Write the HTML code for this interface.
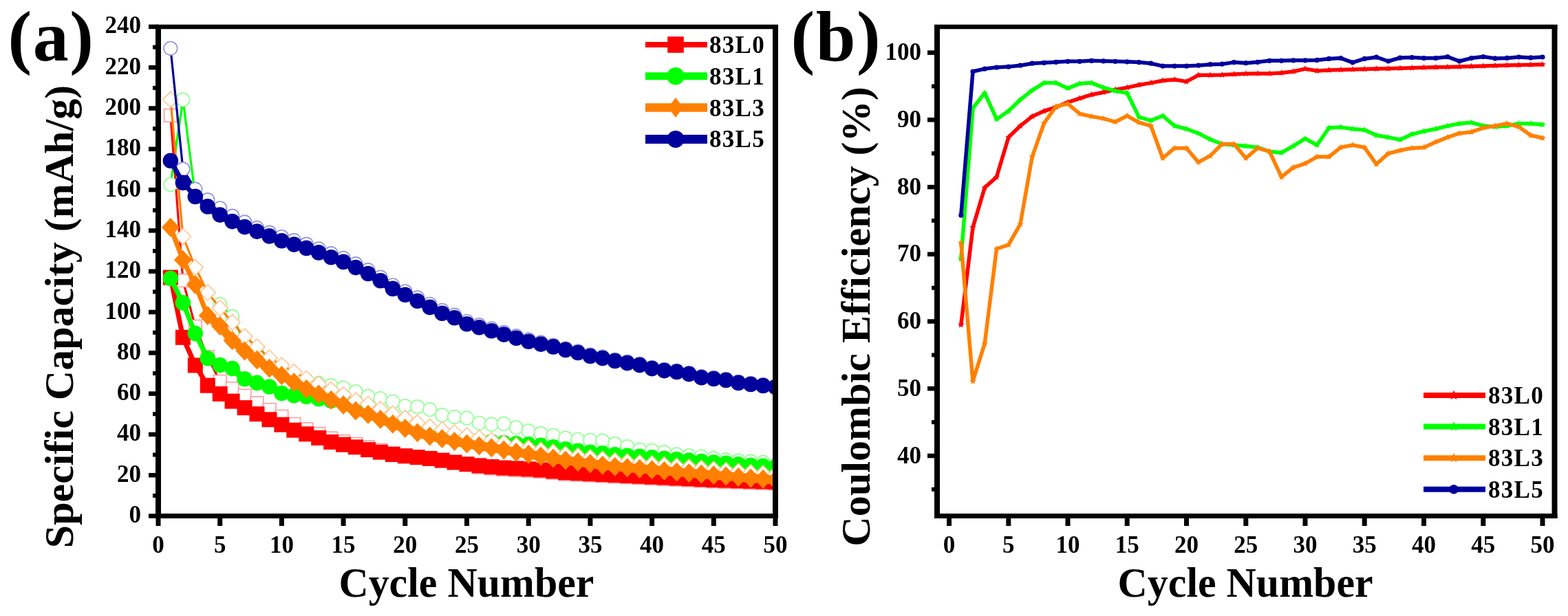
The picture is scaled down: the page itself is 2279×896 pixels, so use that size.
<!DOCTYPE html>
<html><head><meta charset="utf-8"><title>Cycling performance</title>
<style>html,body{margin:0;padding:0;background:#fff;} svg{display:block;}</style>
</head><body>
<svg width="2279" height="896" viewBox="0 0 2279 896">
<rect width="100%" height="100%" fill="#fff"/>
<defs><clipPath id="ca"><rect x="230.0" y="39.0" width="897.0" height="711.5"/></clipPath><clipPath id="cb"><rect x="1362.0" y="39.0" width="897.5" height="711.5"/></clipPath></defs>
<g clip-path="url(#ca)">
<polyline points="247.9,167.9 265.9,408.0 283.8,474.8 301.8,519.2 319.7,554.8 337.6,565.2 355.6,575.6 373.5,586.2 391.5,596.0 409.4,605.8 427.3,616.8 445.3,624.2 463.2,631.0 481.2,637.5 499.1,642.0 517.0,645.8 535.0,650.3 552.9,654.7 570.9,658.9 588.8,662.1 606.7,665.1 624.7,666.9 642.6,669.6 660.6,672.5 678.5,675.2 696.4,679.6 714.4,681.4 732.3,682.9 750.3,683.8 768.2,684.7 786.1,685.9 804.1,687.6 822.0,689.7 840.0,690.6 857.9,691.5 875.8,692.4 893.8,693.3 911.7,694.2 929.7,695.1 947.6,695.9 965.5,696.8 983.5,697.7 1001.4,698.6 1019.4,699.5 1037.3,700.4 1055.2,701.0 1073.2,701.6 1091.1,702.2 1109.1,702.8 1127.0,703.4" fill="none" stroke="#ff0000" stroke-width="3.2" stroke-linejoin="round" stroke-linecap="round" />
<rect x="238.6" y="158.6" width="18.6" height="18.6" fill="#fff" stroke="#ffa0a0" stroke-width="1.7"/>
<rect x="256.6" y="398.7" width="18.6" height="18.6" fill="#fff" stroke="#ffa0a0" stroke-width="1.7"/>
<rect x="274.5" y="465.5" width="18.6" height="18.6" fill="#fff" stroke="#ffa0a0" stroke-width="1.7"/>
<rect x="292.5" y="509.9" width="18.6" height="18.6" fill="#fff" stroke="#ffa0a0" stroke-width="1.7"/>
<rect x="310.4" y="545.5" width="18.6" height="18.6" fill="#fff" stroke="#ffa0a0" stroke-width="1.7"/>
<rect x="328.3" y="555.9" width="18.6" height="18.6" fill="#fff" stroke="#ffa0a0" stroke-width="1.7"/>
<rect x="346.3" y="566.3" width="18.6" height="18.6" fill="#fff" stroke="#ffa0a0" stroke-width="1.7"/>
<rect x="364.2" y="576.9" width="18.6" height="18.6" fill="#fff" stroke="#ffa0a0" stroke-width="1.7"/>
<rect x="382.2" y="586.7" width="18.6" height="18.6" fill="#fff" stroke="#ffa0a0" stroke-width="1.7"/>
<rect x="400.1" y="596.5" width="18.6" height="18.6" fill="#fff" stroke="#ffa0a0" stroke-width="1.7"/>
<rect x="418.0" y="607.5" width="18.6" height="18.6" fill="#fff" stroke="#ffa0a0" stroke-width="1.7"/>
<rect x="436.0" y="614.9" width="18.6" height="18.6" fill="#fff" stroke="#ffa0a0" stroke-width="1.7"/>
<rect x="453.9" y="621.7" width="18.6" height="18.6" fill="#fff" stroke="#ffa0a0" stroke-width="1.7"/>
<rect x="471.9" y="628.2" width="18.6" height="18.6" fill="#fff" stroke="#ffa0a0" stroke-width="1.7"/>
<rect x="489.8" y="632.7" width="18.6" height="18.6" fill="#fff" stroke="#ffa0a0" stroke-width="1.7"/>
<rect x="507.7" y="636.5" width="18.6" height="18.6" fill="#fff" stroke="#ffa0a0" stroke-width="1.7"/>
<rect x="525.7" y="641.0" width="18.6" height="18.6" fill="#fff" stroke="#ffa0a0" stroke-width="1.7"/>
<rect x="543.6" y="645.4" width="18.6" height="18.6" fill="#fff" stroke="#ffa0a0" stroke-width="1.7"/>
<rect x="561.6" y="649.6" width="18.6" height="18.6" fill="#fff" stroke="#ffa0a0" stroke-width="1.7"/>
<rect x="579.5" y="652.8" width="18.6" height="18.6" fill="#fff" stroke="#ffa0a0" stroke-width="1.7"/>
<rect x="597.4" y="655.8" width="18.6" height="18.6" fill="#fff" stroke="#ffa0a0" stroke-width="1.7"/>
<rect x="615.4" y="657.6" width="18.6" height="18.6" fill="#fff" stroke="#ffa0a0" stroke-width="1.7"/>
<rect x="633.3" y="660.3" width="18.6" height="18.6" fill="#fff" stroke="#ffa0a0" stroke-width="1.7"/>
<rect x="651.3" y="663.2" width="18.6" height="18.6" fill="#fff" stroke="#ffa0a0" stroke-width="1.7"/>
<rect x="669.2" y="665.9" width="18.6" height="18.6" fill="#fff" stroke="#ffa0a0" stroke-width="1.7"/>
<rect x="687.1" y="670.3" width="18.6" height="18.6" fill="#fff" stroke="#ffa0a0" stroke-width="1.7"/>
<rect x="705.1" y="672.1" width="18.6" height="18.6" fill="#fff" stroke="#ffa0a0" stroke-width="1.7"/>
<rect x="723.0" y="673.6" width="18.6" height="18.6" fill="#fff" stroke="#ffa0a0" stroke-width="1.7"/>
<rect x="741.0" y="674.5" width="18.6" height="18.6" fill="#fff" stroke="#ffa0a0" stroke-width="1.7"/>
<rect x="758.9" y="675.4" width="18.6" height="18.6" fill="#fff" stroke="#ffa0a0" stroke-width="1.7"/>
<rect x="776.8" y="676.6" width="18.6" height="18.6" fill="#fff" stroke="#ffa0a0" stroke-width="1.7"/>
<rect x="794.8" y="678.3" width="18.6" height="18.6" fill="#fff" stroke="#ffa0a0" stroke-width="1.7"/>
<rect x="812.7" y="680.4" width="18.6" height="18.6" fill="#fff" stroke="#ffa0a0" stroke-width="1.7"/>
<rect x="830.7" y="681.3" width="18.6" height="18.6" fill="#fff" stroke="#ffa0a0" stroke-width="1.7"/>
<rect x="848.6" y="682.2" width="18.6" height="18.6" fill="#fff" stroke="#ffa0a0" stroke-width="1.7"/>
<rect x="866.5" y="683.1" width="18.6" height="18.6" fill="#fff" stroke="#ffa0a0" stroke-width="1.7"/>
<rect x="884.5" y="684.0" width="18.6" height="18.6" fill="#fff" stroke="#ffa0a0" stroke-width="1.7"/>
<rect x="902.4" y="684.9" width="18.6" height="18.6" fill="#fff" stroke="#ffa0a0" stroke-width="1.7"/>
<rect x="920.4" y="685.8" width="18.6" height="18.6" fill="#fff" stroke="#ffa0a0" stroke-width="1.7"/>
<rect x="938.3" y="686.6" width="18.6" height="18.6" fill="#fff" stroke="#ffa0a0" stroke-width="1.7"/>
<rect x="956.2" y="687.5" width="18.6" height="18.6" fill="#fff" stroke="#ffa0a0" stroke-width="1.7"/>
<rect x="974.2" y="688.4" width="18.6" height="18.6" fill="#fff" stroke="#ffa0a0" stroke-width="1.7"/>
<rect x="992.1" y="689.3" width="18.6" height="18.6" fill="#fff" stroke="#ffa0a0" stroke-width="1.7"/>
<rect x="1010.1" y="690.2" width="18.6" height="18.6" fill="#fff" stroke="#ffa0a0" stroke-width="1.7"/>
<rect x="1028.0" y="691.1" width="18.6" height="18.6" fill="#fff" stroke="#ffa0a0" stroke-width="1.7"/>
<rect x="1045.9" y="691.7" width="18.6" height="18.6" fill="#fff" stroke="#ffa0a0" stroke-width="1.7"/>
<rect x="1063.9" y="692.3" width="18.6" height="18.6" fill="#fff" stroke="#ffa0a0" stroke-width="1.7"/>
<rect x="1081.8" y="692.9" width="18.6" height="18.6" fill="#fff" stroke="#ffa0a0" stroke-width="1.7"/>
<rect x="1099.8" y="693.5" width="18.6" height="18.6" fill="#fff" stroke="#ffa0a0" stroke-width="1.7"/>
<rect x="1117.7" y="694.1" width="18.6" height="18.6" fill="#fff" stroke="#ffa0a0" stroke-width="1.7"/>
<polyline points="247.9,403.6 265.9,490.8 283.8,531.4 301.8,560.7 319.7,572.9 337.6,583.6 355.6,593.1 373.5,602.2 391.5,610.3 409.4,617.7 427.3,625.7 445.3,631.3 463.2,636.9 481.2,642.9 499.1,646.7 517.0,650.3 535.0,654.1 552.9,657.7 570.9,661.0 588.8,663.3 606.7,665.1 624.7,666.9 642.6,669.6 660.6,672.5 678.5,675.2 696.4,677.3 714.4,679.0 732.3,680.5 750.3,681.4 768.2,682.3 786.1,683.5 804.1,685.3 822.0,687.3 840.0,688.2 857.9,689.1 875.8,690.0 893.8,690.9 911.7,691.8 929.7,692.7 947.6,693.6 965.5,694.5 983.5,695.4 1001.4,696.2 1019.4,697.1 1037.3,698.0 1055.2,698.6 1073.2,699.2 1091.1,699.8 1109.1,700.4 1127.0,701.0" fill="none" stroke="#ff0000" stroke-width="7" stroke-linejoin="round" stroke-linecap="round" />
<polyline points="301.8,560.7 319.7,572.9 337.6,583.6 355.6,593.1 373.5,602.2 391.5,610.3 409.4,617.7 427.3,625.7 445.3,631.3 463.2,636.9 481.2,642.9 499.1,646.7 517.0,650.3 535.0,654.1 552.9,657.7 570.9,661.0 588.8,663.3 606.7,665.1 624.7,666.9 642.6,669.6 660.6,672.5 678.5,675.2 696.4,677.3 714.4,679.0 732.3,680.5 750.3,681.4 768.2,682.3 786.1,683.5 804.1,685.3 822.0,687.3 840.0,688.2 857.9,689.1 875.8,690.0 893.8,690.9 911.7,691.8 929.7,692.7 947.6,693.6 965.5,694.5 983.5,695.4 1001.4,696.2 1019.4,697.1 1037.3,698.0 1055.2,698.6 1073.2,699.2 1091.1,699.8 1109.1,700.4 1127.0,701.0" fill="none" stroke="#ff0000" stroke-width="10" stroke-linejoin="round" stroke-linecap="round" />
<rect x="236.9" y="392.6" width="22.0" height="22.0" fill="#ff0000" stroke="none" stroke-width="0"/>
<rect x="254.9" y="479.8" width="22.0" height="22.0" fill="#ff0000" stroke="none" stroke-width="0"/>
<rect x="272.8" y="520.4" width="22.0" height="22.0" fill="#ff0000" stroke="none" stroke-width="0"/>
<rect x="290.8" y="549.7" width="22.0" height="22.0" fill="#ff0000" stroke="none" stroke-width="0"/>
<rect x="308.7" y="561.9" width="22.0" height="22.0" fill="#ff0000" stroke="none" stroke-width="0"/>
<rect x="326.6" y="572.6" width="22.0" height="22.0" fill="#ff0000" stroke="none" stroke-width="0"/>
<rect x="344.6" y="582.1" width="22.0" height="22.0" fill="#ff0000" stroke="none" stroke-width="0"/>
<rect x="362.5" y="591.2" width="22.0" height="22.0" fill="#ff0000" stroke="none" stroke-width="0"/>
<rect x="380.5" y="599.3" width="22.0" height="22.0" fill="#ff0000" stroke="none" stroke-width="0"/>
<rect x="398.4" y="606.7" width="22.0" height="22.0" fill="#ff0000" stroke="none" stroke-width="0"/>
<rect x="416.3" y="614.7" width="22.0" height="22.0" fill="#ff0000" stroke="none" stroke-width="0"/>
<rect x="434.3" y="620.3" width="22.0" height="22.0" fill="#ff0000" stroke="none" stroke-width="0"/>
<rect x="452.2" y="625.9" width="22.0" height="22.0" fill="#ff0000" stroke="none" stroke-width="0"/>
<rect x="470.2" y="631.9" width="22.0" height="22.0" fill="#ff0000" stroke="none" stroke-width="0"/>
<rect x="488.1" y="635.7" width="22.0" height="22.0" fill="#ff0000" stroke="none" stroke-width="0"/>
<rect x="506.0" y="639.3" width="22.0" height="22.0" fill="#ff0000" stroke="none" stroke-width="0"/>
<rect x="524.0" y="643.1" width="22.0" height="22.0" fill="#ff0000" stroke="none" stroke-width="0"/>
<rect x="541.9" y="646.7" width="22.0" height="22.0" fill="#ff0000" stroke="none" stroke-width="0"/>
<rect x="559.9" y="650.0" width="22.0" height="22.0" fill="#ff0000" stroke="none" stroke-width="0"/>
<rect x="577.8" y="652.3" width="22.0" height="22.0" fill="#ff0000" stroke="none" stroke-width="0"/>
<rect x="595.7" y="654.1" width="22.0" height="22.0" fill="#ff0000" stroke="none" stroke-width="0"/>
<rect x="613.7" y="655.9" width="22.0" height="22.0" fill="#ff0000" stroke="none" stroke-width="0"/>
<rect x="631.6" y="658.6" width="22.0" height="22.0" fill="#ff0000" stroke="none" stroke-width="0"/>
<rect x="649.6" y="661.5" width="22.0" height="22.0" fill="#ff0000" stroke="none" stroke-width="0"/>
<rect x="667.5" y="664.2" width="22.0" height="22.0" fill="#ff0000" stroke="none" stroke-width="0"/>
<rect x="685.4" y="666.3" width="22.0" height="22.0" fill="#ff0000" stroke="none" stroke-width="0"/>
<rect x="703.4" y="668.0" width="22.0" height="22.0" fill="#ff0000" stroke="none" stroke-width="0"/>
<rect x="721.3" y="669.5" width="22.0" height="22.0" fill="#ff0000" stroke="none" stroke-width="0"/>
<rect x="739.3" y="670.4" width="22.0" height="22.0" fill="#ff0000" stroke="none" stroke-width="0"/>
<rect x="757.2" y="671.3" width="22.0" height="22.0" fill="#ff0000" stroke="none" stroke-width="0"/>
<rect x="775.1" y="672.5" width="22.0" height="22.0" fill="#ff0000" stroke="none" stroke-width="0"/>
<rect x="793.1" y="674.3" width="22.0" height="22.0" fill="#ff0000" stroke="none" stroke-width="0"/>
<rect x="811.0" y="676.3" width="22.0" height="22.0" fill="#ff0000" stroke="none" stroke-width="0"/>
<rect x="829.0" y="677.2" width="22.0" height="22.0" fill="#ff0000" stroke="none" stroke-width="0"/>
<rect x="846.9" y="678.1" width="22.0" height="22.0" fill="#ff0000" stroke="none" stroke-width="0"/>
<rect x="864.8" y="679.0" width="22.0" height="22.0" fill="#ff0000" stroke="none" stroke-width="0"/>
<rect x="882.8" y="679.9" width="22.0" height="22.0" fill="#ff0000" stroke="none" stroke-width="0"/>
<rect x="900.7" y="680.8" width="22.0" height="22.0" fill="#ff0000" stroke="none" stroke-width="0"/>
<rect x="918.7" y="681.7" width="22.0" height="22.0" fill="#ff0000" stroke="none" stroke-width="0"/>
<rect x="936.6" y="682.6" width="22.0" height="22.0" fill="#ff0000" stroke="none" stroke-width="0"/>
<rect x="954.5" y="683.5" width="22.0" height="22.0" fill="#ff0000" stroke="none" stroke-width="0"/>
<rect x="972.5" y="684.4" width="22.0" height="22.0" fill="#ff0000" stroke="none" stroke-width="0"/>
<rect x="990.4" y="685.2" width="22.0" height="22.0" fill="#ff0000" stroke="none" stroke-width="0"/>
<rect x="1008.4" y="686.1" width="22.0" height="22.0" fill="#ff0000" stroke="none" stroke-width="0"/>
<rect x="1026.3" y="687.0" width="22.0" height="22.0" fill="#ff0000" stroke="none" stroke-width="0"/>
<rect x="1044.2" y="687.6" width="22.0" height="22.0" fill="#ff0000" stroke="none" stroke-width="0"/>
<rect x="1062.2" y="688.2" width="22.0" height="22.0" fill="#ff0000" stroke="none" stroke-width="0"/>
<rect x="1080.1" y="688.8" width="22.0" height="22.0" fill="#ff0000" stroke="none" stroke-width="0"/>
<rect x="1098.1" y="689.4" width="22.0" height="22.0" fill="#ff0000" stroke="none" stroke-width="0"/>
<rect x="1116.0" y="690.0" width="22.0" height="22.0" fill="#ff0000" stroke="none" stroke-width="0"/>
<polyline points="247.9,268.4 265.9,145.0 283.8,285.0" fill="none" stroke="#00ff00" stroke-width="3.2" stroke-linejoin="round" stroke-linecap="round" />
<polyline points="319.7,442.7 337.6,460.5 355.6,498.8 373.5,512.4 391.5,526.6 409.4,537.3 427.3,547.1 445.3,552.7 463.2,557.2 481.2,560.7 499.1,564.0 517.0,569.6 535.0,576.5 552.9,579.7 570.9,584.2 588.8,590.7 606.7,591.6 624.7,595.7 642.6,603.7 660.6,606.4 678.5,608.2 696.4,615.3 714.4,617.1 732.3,616.2 750.3,621.8 768.2,626.6 786.1,630.4 804.1,633.1 822.0,637.2 840.0,639.3 857.9,640.2 875.8,641.1 893.8,645.5 911.7,649.7 929.7,654.1 947.6,655.3 965.5,657.7 983.5,661.0 1001.4,663.0 1019.4,664.2 1037.3,666.6 1055.2,668.7 1073.2,669.9 1091.1,671.0 1109.1,672.5 1127.0,676.4" fill="none" stroke="#00ff00" stroke-width="3.2" stroke-linejoin="round" stroke-linecap="round" />
<circle cx="247.9" cy="268.4" r="9.8" fill="#fff" stroke="#96ff96" stroke-width="1.7"/>
<circle cx="265.9" cy="145.0" r="9.8" fill="#fff" stroke="#96ff96" stroke-width="1.7"/>
<circle cx="283.8" cy="285.0" r="9.8" fill="#fff" stroke="#96ff96" stroke-width="1.7"/>
<circle cx="301.8" cy="299.8" r="9.8" fill="#fff" stroke="#96ff96" stroke-width="1.7"/>
<circle cx="319.7" cy="442.7" r="9.8" fill="#fff" stroke="#96ff96" stroke-width="1.7"/>
<circle cx="337.6" cy="460.5" r="9.8" fill="#fff" stroke="#96ff96" stroke-width="1.7"/>
<circle cx="355.6" cy="498.8" r="9.8" fill="#fff" stroke="#96ff96" stroke-width="1.7"/>
<circle cx="373.5" cy="512.4" r="9.8" fill="#fff" stroke="#96ff96" stroke-width="1.7"/>
<circle cx="391.5" cy="526.6" r="9.8" fill="#fff" stroke="#96ff96" stroke-width="1.7"/>
<circle cx="409.4" cy="537.3" r="9.8" fill="#fff" stroke="#96ff96" stroke-width="1.7"/>
<circle cx="427.3" cy="547.1" r="9.8" fill="#fff" stroke="#96ff96" stroke-width="1.7"/>
<circle cx="445.3" cy="552.7" r="9.8" fill="#fff" stroke="#96ff96" stroke-width="1.7"/>
<circle cx="463.2" cy="557.2" r="9.8" fill="#fff" stroke="#96ff96" stroke-width="1.7"/>
<circle cx="481.2" cy="560.7" r="9.8" fill="#fff" stroke="#96ff96" stroke-width="1.7"/>
<circle cx="499.1" cy="564.0" r="9.8" fill="#fff" stroke="#96ff96" stroke-width="1.7"/>
<circle cx="517.0" cy="569.6" r="9.8" fill="#fff" stroke="#96ff96" stroke-width="1.7"/>
<circle cx="535.0" cy="576.5" r="9.8" fill="#fff" stroke="#96ff96" stroke-width="1.7"/>
<circle cx="552.9" cy="579.7" r="9.8" fill="#fff" stroke="#96ff96" stroke-width="1.7"/>
<circle cx="570.9" cy="584.2" r="9.8" fill="#fff" stroke="#96ff96" stroke-width="1.7"/>
<circle cx="588.8" cy="590.7" r="9.8" fill="#fff" stroke="#96ff96" stroke-width="1.7"/>
<circle cx="606.7" cy="591.6" r="9.8" fill="#fff" stroke="#96ff96" stroke-width="1.7"/>
<circle cx="624.7" cy="595.7" r="9.8" fill="#fff" stroke="#96ff96" stroke-width="1.7"/>
<circle cx="642.6" cy="603.7" r="9.8" fill="#fff" stroke="#96ff96" stroke-width="1.7"/>
<circle cx="660.6" cy="606.4" r="9.8" fill="#fff" stroke="#96ff96" stroke-width="1.7"/>
<circle cx="678.5" cy="608.2" r="9.8" fill="#fff" stroke="#96ff96" stroke-width="1.7"/>
<circle cx="696.4" cy="615.3" r="9.8" fill="#fff" stroke="#96ff96" stroke-width="1.7"/>
<circle cx="714.4" cy="617.1" r="9.8" fill="#fff" stroke="#96ff96" stroke-width="1.7"/>
<circle cx="732.3" cy="616.2" r="9.8" fill="#fff" stroke="#96ff96" stroke-width="1.7"/>
<circle cx="750.3" cy="621.8" r="9.8" fill="#fff" stroke="#96ff96" stroke-width="1.7"/>
<circle cx="768.2" cy="626.6" r="9.8" fill="#fff" stroke="#96ff96" stroke-width="1.7"/>
<circle cx="786.1" cy="630.4" r="9.8" fill="#fff" stroke="#96ff96" stroke-width="1.7"/>
<circle cx="804.1" cy="633.1" r="9.8" fill="#fff" stroke="#96ff96" stroke-width="1.7"/>
<circle cx="822.0" cy="637.2" r="9.8" fill="#fff" stroke="#96ff96" stroke-width="1.7"/>
<circle cx="840.0" cy="639.3" r="9.8" fill="#fff" stroke="#96ff96" stroke-width="1.7"/>
<circle cx="857.9" cy="640.2" r="9.8" fill="#fff" stroke="#96ff96" stroke-width="1.7"/>
<circle cx="875.8" cy="641.1" r="9.8" fill="#fff" stroke="#96ff96" stroke-width="1.7"/>
<circle cx="893.8" cy="645.5" r="9.8" fill="#fff" stroke="#96ff96" stroke-width="1.7"/>
<circle cx="911.7" cy="649.7" r="9.8" fill="#fff" stroke="#96ff96" stroke-width="1.7"/>
<circle cx="929.7" cy="654.1" r="9.8" fill="#fff" stroke="#96ff96" stroke-width="1.7"/>
<circle cx="947.6" cy="655.3" r="9.8" fill="#fff" stroke="#96ff96" stroke-width="1.7"/>
<circle cx="965.5" cy="657.7" r="9.8" fill="#fff" stroke="#96ff96" stroke-width="1.7"/>
<circle cx="983.5" cy="661.0" r="9.8" fill="#fff" stroke="#96ff96" stroke-width="1.7"/>
<circle cx="1001.4" cy="663.0" r="9.8" fill="#fff" stroke="#96ff96" stroke-width="1.7"/>
<circle cx="1019.4" cy="664.2" r="9.8" fill="#fff" stroke="#96ff96" stroke-width="1.7"/>
<circle cx="1037.3" cy="666.6" r="9.8" fill="#fff" stroke="#96ff96" stroke-width="1.7"/>
<circle cx="1055.2" cy="668.7" r="9.8" fill="#fff" stroke="#96ff96" stroke-width="1.7"/>
<circle cx="1073.2" cy="669.9" r="9.8" fill="#fff" stroke="#96ff96" stroke-width="1.7"/>
<circle cx="1091.1" cy="671.0" r="9.8" fill="#fff" stroke="#96ff96" stroke-width="1.7"/>
<circle cx="1109.1" cy="672.5" r="9.8" fill="#fff" stroke="#96ff96" stroke-width="1.7"/>
<circle cx="1127.0" cy="676.4" r="9.8" fill="#fff" stroke="#96ff96" stroke-width="1.7"/>
<polyline points="247.9,405.1 265.9,440.4 283.8,485.1 301.8,521.3 319.7,531.1 337.6,536.1 355.6,551.3 373.5,556.9 391.5,562.5 409.4,572.0 427.3,575.3 445.3,576.8 463.2,580.3 481.2,583.0 499.1,585.9 517.0,589.2 535.0,594.5 552.9,601.7 570.9,608.5 588.8,614.7 606.7,620.9 624.7,626.3 642.6,629.8 660.6,634.0 678.5,637.5 696.4,640.2 714.4,642.3 732.3,644.1 750.3,645.2 768.2,646.4 786.1,647.9 804.1,650.3 822.0,653.2 840.0,655.9 857.9,657.7 875.8,659.2 893.8,661.3 911.7,662.7 929.7,663.9 947.6,665.4 965.5,666.9 983.5,668.1 1001.4,669.6 1019.4,671.0 1037.3,672.5 1055.2,673.7 1073.2,675.2 1091.1,676.7 1109.1,677.9 1127.0,679.3" fill="none" stroke="#00ff00" stroke-width="7" stroke-linejoin="round" stroke-linecap="round" />
<polyline points="319.7,531.1 337.6,536.1 355.6,551.3 373.5,556.9 391.5,562.5 409.4,572.0 427.3,575.3 445.3,576.8 463.2,580.3 481.2,583.0 499.1,585.9 517.0,589.2 535.0,594.5 552.9,601.7 570.9,608.5 588.8,614.7 606.7,620.9 624.7,626.3 642.6,629.8 660.6,634.0 678.5,637.5 696.4,640.2 714.4,642.3 732.3,644.1 750.3,645.2 768.2,646.4 786.1,647.9 804.1,650.3 822.0,653.2 840.0,655.9 857.9,657.7 875.8,659.2 893.8,661.3 911.7,662.7 929.7,663.9 947.6,665.4 965.5,666.9 983.5,668.1 1001.4,669.6 1019.4,671.0 1037.3,672.5 1055.2,673.7 1073.2,675.2 1091.1,676.7 1109.1,677.9 1127.0,679.3" fill="none" stroke="#00ff00" stroke-width="10" stroke-linejoin="round" stroke-linecap="round" />
<circle cx="247.9" cy="405.1" r="11.3" fill="#00ff00" stroke="none" stroke-width="0"/>
<circle cx="265.9" cy="440.4" r="11.3" fill="#00ff00" stroke="none" stroke-width="0"/>
<circle cx="283.8" cy="485.1" r="11.3" fill="#00ff00" stroke="none" stroke-width="0"/>
<circle cx="301.8" cy="521.3" r="11.3" fill="#00ff00" stroke="none" stroke-width="0"/>
<circle cx="319.7" cy="531.1" r="11.3" fill="#00ff00" stroke="none" stroke-width="0"/>
<circle cx="337.6" cy="536.1" r="11.3" fill="#00ff00" stroke="none" stroke-width="0"/>
<circle cx="355.6" cy="551.3" r="11.3" fill="#00ff00" stroke="none" stroke-width="0"/>
<circle cx="373.5" cy="556.9" r="11.3" fill="#00ff00" stroke="none" stroke-width="0"/>
<circle cx="391.5" cy="562.5" r="11.3" fill="#00ff00" stroke="none" stroke-width="0"/>
<circle cx="409.4" cy="572.0" r="11.3" fill="#00ff00" stroke="none" stroke-width="0"/>
<circle cx="427.3" cy="575.3" r="11.3" fill="#00ff00" stroke="none" stroke-width="0"/>
<circle cx="445.3" cy="576.8" r="11.3" fill="#00ff00" stroke="none" stroke-width="0"/>
<circle cx="463.2" cy="580.3" r="11.3" fill="#00ff00" stroke="none" stroke-width="0"/>
<circle cx="481.2" cy="583.0" r="11.3" fill="#00ff00" stroke="none" stroke-width="0"/>
<circle cx="499.1" cy="585.9" r="11.3" fill="#00ff00" stroke="none" stroke-width="0"/>
<circle cx="517.0" cy="589.2" r="11.3" fill="#00ff00" stroke="none" stroke-width="0"/>
<circle cx="535.0" cy="594.5" r="11.3" fill="#00ff00" stroke="none" stroke-width="0"/>
<circle cx="552.9" cy="601.7" r="11.3" fill="#00ff00" stroke="none" stroke-width="0"/>
<circle cx="570.9" cy="608.5" r="11.3" fill="#00ff00" stroke="none" stroke-width="0"/>
<circle cx="588.8" cy="614.7" r="11.3" fill="#00ff00" stroke="none" stroke-width="0"/>
<circle cx="606.7" cy="620.9" r="11.3" fill="#00ff00" stroke="none" stroke-width="0"/>
<circle cx="624.7" cy="626.3" r="11.3" fill="#00ff00" stroke="none" stroke-width="0"/>
<circle cx="642.6" cy="629.8" r="11.3" fill="#00ff00" stroke="none" stroke-width="0"/>
<circle cx="660.6" cy="634.0" r="11.3" fill="#00ff00" stroke="none" stroke-width="0"/>
<circle cx="678.5" cy="637.5" r="11.3" fill="#00ff00" stroke="none" stroke-width="0"/>
<circle cx="696.4" cy="640.2" r="11.3" fill="#00ff00" stroke="none" stroke-width="0"/>
<circle cx="714.4" cy="642.3" r="11.3" fill="#00ff00" stroke="none" stroke-width="0"/>
<circle cx="732.3" cy="644.1" r="11.3" fill="#00ff00" stroke="none" stroke-width="0"/>
<circle cx="750.3" cy="645.2" r="11.3" fill="#00ff00" stroke="none" stroke-width="0"/>
<circle cx="768.2" cy="646.4" r="11.3" fill="#00ff00" stroke="none" stroke-width="0"/>
<circle cx="786.1" cy="647.9" r="11.3" fill="#00ff00" stroke="none" stroke-width="0"/>
<circle cx="804.1" cy="650.3" r="11.3" fill="#00ff00" stroke="none" stroke-width="0"/>
<circle cx="822.0" cy="653.2" r="11.3" fill="#00ff00" stroke="none" stroke-width="0"/>
<circle cx="840.0" cy="655.9" r="11.3" fill="#00ff00" stroke="none" stroke-width="0"/>
<circle cx="857.9" cy="657.7" r="11.3" fill="#00ff00" stroke="none" stroke-width="0"/>
<circle cx="875.8" cy="659.2" r="11.3" fill="#00ff00" stroke="none" stroke-width="0"/>
<circle cx="893.8" cy="661.3" r="11.3" fill="#00ff00" stroke="none" stroke-width="0"/>
<circle cx="911.7" cy="662.7" r="11.3" fill="#00ff00" stroke="none" stroke-width="0"/>
<circle cx="929.7" cy="663.9" r="11.3" fill="#00ff00" stroke="none" stroke-width="0"/>
<circle cx="947.6" cy="665.4" r="11.3" fill="#00ff00" stroke="none" stroke-width="0"/>
<circle cx="965.5" cy="666.9" r="11.3" fill="#00ff00" stroke="none" stroke-width="0"/>
<circle cx="983.5" cy="668.1" r="11.3" fill="#00ff00" stroke="none" stroke-width="0"/>
<circle cx="1001.4" cy="669.6" r="11.3" fill="#00ff00" stroke="none" stroke-width="0"/>
<circle cx="1019.4" cy="671.0" r="11.3" fill="#00ff00" stroke="none" stroke-width="0"/>
<circle cx="1037.3" cy="672.5" r="11.3" fill="#00ff00" stroke="none" stroke-width="0"/>
<circle cx="1055.2" cy="673.7" r="11.3" fill="#00ff00" stroke="none" stroke-width="0"/>
<circle cx="1073.2" cy="675.2" r="11.3" fill="#00ff00" stroke="none" stroke-width="0"/>
<circle cx="1091.1" cy="676.7" r="11.3" fill="#00ff00" stroke="none" stroke-width="0"/>
<circle cx="1109.1" cy="677.9" r="11.3" fill="#00ff00" stroke="none" stroke-width="0"/>
<circle cx="1127.0" cy="679.3" r="11.3" fill="#00ff00" stroke="none" stroke-width="0"/>
<polyline points="247.9,144.8 265.9,344.0 283.8,388.8 301.8,425.5 319.7,448.1 337.6,468.8 355.6,489.6 373.5,504.4 391.5,520.7 409.4,531.4 427.3,541.2 445.3,551.0 463.2,558.7 481.2,567.0 499.1,574.1 517.0,582.7 535.0,588.0 552.9,595.1 570.9,602.0 588.8,608.2 606.7,615.0 624.7,620.9 642.6,625.1 660.6,629.5 678.5,633.7 696.4,637.2 714.4,640.5 732.3,644.4 750.3,648.2 768.2,651.8 786.1,654.8 804.1,657.8 822.0,660.8 840.0,663.2 857.9,665.6 875.8,668.0 893.8,670.2 911.7,671.7 929.7,673.2 947.6,674.7 965.5,676.3 983.5,678.1 1001.4,679.6 1019.4,681.1 1037.3,682.7 1055.2,684.2 1073.2,685.7 1091.1,687.3 1109.1,688.8 1127.0,690.3" fill="none" stroke="#ff8000" stroke-width="3.2" stroke-linejoin="round" stroke-linecap="round" />
<polygon points="247.9,133.3 259.4,144.8 247.9,156.3 236.4,144.8" fill="#fff" stroke="#ffc896" stroke-width="1.7"/>
<polygon points="265.9,332.5 277.4,344.0 265.9,355.5 254.4,344.0" fill="#fff" stroke="#ffc896" stroke-width="1.7"/>
<polygon points="283.8,377.3 295.3,388.8 283.8,400.3 272.3,388.8" fill="#fff" stroke="#ffc896" stroke-width="1.7"/>
<polygon points="301.8,414.0 313.3,425.5 301.8,437.0 290.3,425.5" fill="#fff" stroke="#ffc896" stroke-width="1.7"/>
<polygon points="319.7,436.6 331.2,448.1 319.7,459.6 308.2,448.1" fill="#fff" stroke="#ffc896" stroke-width="1.7"/>
<polygon points="337.6,457.3 349.1,468.8 337.6,480.3 326.1,468.8" fill="#fff" stroke="#ffc896" stroke-width="1.7"/>
<polygon points="355.6,478.1 367.1,489.6 355.6,501.1 344.1,489.6" fill="#fff" stroke="#ffc896" stroke-width="1.7"/>
<polygon points="373.5,492.9 385.0,504.4 373.5,515.9 362.0,504.4" fill="#fff" stroke="#ffc896" stroke-width="1.7"/>
<polygon points="391.5,509.2 403.0,520.7 391.5,532.2 380.0,520.7" fill="#fff" stroke="#ffc896" stroke-width="1.7"/>
<polygon points="409.4,519.9 420.9,531.4 409.4,542.9 397.9,531.4" fill="#fff" stroke="#ffc896" stroke-width="1.7"/>
<polygon points="427.3,529.7 438.8,541.2 427.3,552.7 415.8,541.2" fill="#fff" stroke="#ffc896" stroke-width="1.7"/>
<polygon points="445.3,539.5 456.8,551.0 445.3,562.5 433.8,551.0" fill="#fff" stroke="#ffc896" stroke-width="1.7"/>
<polygon points="463.2,547.2 474.7,558.7 463.2,570.2 451.7,558.7" fill="#fff" stroke="#ffc896" stroke-width="1.7"/>
<polygon points="481.2,555.5 492.7,567.0 481.2,578.5 469.7,567.0" fill="#fff" stroke="#ffc896" stroke-width="1.7"/>
<polygon points="499.1,562.6 510.6,574.1 499.1,585.6 487.6,574.1" fill="#fff" stroke="#ffc896" stroke-width="1.7"/>
<polygon points="517.0,571.2 528.5,582.7 517.0,594.2 505.5,582.7" fill="#fff" stroke="#ffc896" stroke-width="1.7"/>
<polygon points="535.0,576.5 546.5,588.0 535.0,599.5 523.5,588.0" fill="#fff" stroke="#ffc896" stroke-width="1.7"/>
<polygon points="552.9,583.6 564.4,595.1 552.9,606.6 541.4,595.1" fill="#fff" stroke="#ffc896" stroke-width="1.7"/>
<polygon points="570.9,590.5 582.4,602.0 570.9,613.5 559.4,602.0" fill="#fff" stroke="#ffc896" stroke-width="1.7"/>
<polygon points="588.8,596.7 600.3,608.2 588.8,619.7 577.3,608.2" fill="#fff" stroke="#ffc896" stroke-width="1.7"/>
<polygon points="606.7,603.5 618.2,615.0 606.7,626.5 595.2,615.0" fill="#fff" stroke="#ffc896" stroke-width="1.7"/>
<polygon points="624.7,609.4 636.2,620.9 624.7,632.4 613.2,620.9" fill="#fff" stroke="#ffc896" stroke-width="1.7"/>
<polygon points="642.6,613.6 654.1,625.1 642.6,636.6 631.1,625.1" fill="#fff" stroke="#ffc896" stroke-width="1.7"/>
<polygon points="660.6,618.0 672.1,629.5 660.6,641.0 649.1,629.5" fill="#fff" stroke="#ffc896" stroke-width="1.7"/>
<polygon points="678.5,622.2 690.0,633.7 678.5,645.2 667.0,633.7" fill="#fff" stroke="#ffc896" stroke-width="1.7"/>
<polygon points="696.4,625.7 707.9,637.2 696.4,648.7 684.9,637.2" fill="#fff" stroke="#ffc896" stroke-width="1.7"/>
<polygon points="714.4,629.0 725.9,640.5 714.4,652.0 702.9,640.5" fill="#fff" stroke="#ffc896" stroke-width="1.7"/>
<polygon points="732.3,632.9 743.8,644.4 732.3,655.9 720.8,644.4" fill="#fff" stroke="#ffc896" stroke-width="1.7"/>
<polygon points="750.3,636.7 761.8,648.2 750.3,659.7 738.8,648.2" fill="#fff" stroke="#ffc896" stroke-width="1.7"/>
<polygon points="768.2,640.3 779.7,651.8 768.2,663.3 756.7,651.8" fill="#fff" stroke="#ffc896" stroke-width="1.7"/>
<polygon points="786.1,643.3 797.6,654.8 786.1,666.3 774.6,654.8" fill="#fff" stroke="#ffc896" stroke-width="1.7"/>
<polygon points="804.1,646.3 815.6,657.8 804.1,669.3 792.6,657.8" fill="#fff" stroke="#ffc896" stroke-width="1.7"/>
<polygon points="822.0,649.3 833.5,660.8 822.0,672.3 810.5,660.8" fill="#fff" stroke="#ffc896" stroke-width="1.7"/>
<polygon points="840.0,651.7 851.5,663.2 840.0,674.7 828.5,663.2" fill="#fff" stroke="#ffc896" stroke-width="1.7"/>
<polygon points="857.9,654.1 869.4,665.6 857.9,677.1 846.4,665.6" fill="#fff" stroke="#ffc896" stroke-width="1.7"/>
<polygon points="875.8,656.5 887.3,668.0 875.8,679.5 864.3,668.0" fill="#fff" stroke="#ffc896" stroke-width="1.7"/>
<polygon points="893.8,658.7 905.3,670.2 893.8,681.7 882.3,670.2" fill="#fff" stroke="#ffc896" stroke-width="1.7"/>
<polygon points="911.7,660.2 923.2,671.7 911.7,683.2 900.2,671.7" fill="#fff" stroke="#ffc896" stroke-width="1.7"/>
<polygon points="929.7,661.7 941.2,673.2 929.7,684.7 918.2,673.2" fill="#fff" stroke="#ffc896" stroke-width="1.7"/>
<polygon points="947.6,663.2 959.1,674.7 947.6,686.2 936.1,674.7" fill="#fff" stroke="#ffc896" stroke-width="1.7"/>
<polygon points="965.5,664.8 977.0,676.3 965.5,687.8 954.0,676.3" fill="#fff" stroke="#ffc896" stroke-width="1.7"/>
<polygon points="983.5,666.6 995.0,678.1 983.5,689.6 972.0,678.1" fill="#fff" stroke="#ffc896" stroke-width="1.7"/>
<polygon points="1001.4,668.1 1012.9,679.6 1001.4,691.1 989.9,679.6" fill="#fff" stroke="#ffc896" stroke-width="1.7"/>
<polygon points="1019.4,669.6 1030.9,681.1 1019.4,692.6 1007.9,681.1" fill="#fff" stroke="#ffc896" stroke-width="1.7"/>
<polygon points="1037.3,671.2 1048.8,682.7 1037.3,694.2 1025.8,682.7" fill="#fff" stroke="#ffc896" stroke-width="1.7"/>
<polygon points="1055.2,672.7 1066.7,684.2 1055.2,695.7 1043.7,684.2" fill="#fff" stroke="#ffc896" stroke-width="1.7"/>
<polygon points="1073.2,674.2 1084.7,685.7 1073.2,697.2 1061.7,685.7" fill="#fff" stroke="#ffc896" stroke-width="1.7"/>
<polygon points="1091.1,675.8 1102.6,687.3 1091.1,698.8 1079.6,687.3" fill="#fff" stroke="#ffc896" stroke-width="1.7"/>
<polygon points="1109.1,677.3 1120.6,688.8 1109.1,700.3 1097.6,688.8" fill="#fff" stroke="#ffc896" stroke-width="1.7"/>
<polygon points="1127.0,678.8 1138.5,690.3 1127.0,701.8 1115.5,690.3" fill="#fff" stroke="#ffc896" stroke-width="1.7"/>
<polyline points="247.9,330.7 265.9,378.1 283.8,414.0 301.8,459.0 319.7,473.9 337.6,495.2 355.6,510.6 373.5,523.4 391.5,535.5 409.4,546.2 427.3,556.0 445.3,565.8 463.2,573.5 481.2,581.8 499.1,588.9 517.0,597.5 535.0,602.8 552.9,610.0 570.9,616.8 588.8,623.0 606.7,629.2 624.7,634.6 642.6,638.1 660.6,642.0 678.5,645.5 696.4,648.5 714.4,651.2 732.3,654.4 750.3,657.7 768.2,660.7 786.1,663.6 804.1,666.6 822.0,669.6 840.0,671.9 857.9,674.3 875.8,676.7 893.8,678.7 911.7,680.2 929.7,681.7 947.6,683.2 965.5,684.7 983.5,686.5 1001.4,687.9 1019.4,689.4 1037.3,690.9 1055.2,692.4 1073.2,693.9 1091.1,695.4 1109.1,696.8 1127.0,698.3" fill="none" stroke="#ff8000" stroke-width="7" stroke-linejoin="round" stroke-linecap="round" />
<polyline points="301.8,459.0 319.7,473.9 337.6,495.2 355.6,510.6 373.5,523.4 391.5,535.5 409.4,546.2 427.3,556.0 445.3,565.8 463.2,573.5 481.2,581.8 499.1,588.9 517.0,597.5 535.0,602.8 552.9,610.0 570.9,616.8 588.8,623.0 606.7,629.2 624.7,634.6 642.6,638.1 660.6,642.0 678.5,645.5 696.4,648.5 714.4,651.2 732.3,654.4 750.3,657.7 768.2,660.7 786.1,663.6 804.1,666.6 822.0,669.6 840.0,671.9 857.9,674.3 875.8,676.7 893.8,678.7 911.7,680.2 929.7,681.7 947.6,683.2 965.5,684.7 983.5,686.5 1001.4,687.9 1019.4,689.4 1037.3,690.9 1055.2,692.4 1073.2,693.9 1091.1,695.4 1109.1,696.8 1127.0,698.3" fill="none" stroke="#ff8000" stroke-width="13" stroke-linejoin="round" stroke-linecap="round" />
<polygon points="247.9,316.7 260.9,330.7 247.9,344.7 234.9,330.7" fill="#ff8000" stroke="none" stroke-width="0"/>
<polygon points="265.9,364.1 278.9,378.1 265.9,392.1 252.9,378.1" fill="#ff8000" stroke="none" stroke-width="0"/>
<polygon points="283.8,400.0 296.8,414.0 283.8,428.0 270.8,414.0" fill="#ff8000" stroke="none" stroke-width="0"/>
<polygon points="301.8,445.0 314.8,459.0 301.8,473.0 288.8,459.0" fill="#ff8000" stroke="none" stroke-width="0"/>
<polygon points="319.7,459.9 332.7,473.9 319.7,487.9 306.7,473.9" fill="#ff8000" stroke="none" stroke-width="0"/>
<polygon points="337.6,481.2 350.6,495.2 337.6,509.2 324.6,495.2" fill="#ff8000" stroke="none" stroke-width="0"/>
<polygon points="355.6,496.6 368.6,510.6 355.6,524.6 342.6,510.6" fill="#ff8000" stroke="none" stroke-width="0"/>
<polygon points="373.5,509.4 386.5,523.4 373.5,537.4 360.5,523.4" fill="#ff8000" stroke="none" stroke-width="0"/>
<polygon points="391.5,521.5 404.5,535.5 391.5,549.5 378.5,535.5" fill="#ff8000" stroke="none" stroke-width="0"/>
<polygon points="409.4,532.2 422.4,546.2 409.4,560.2 396.4,546.2" fill="#ff8000" stroke="none" stroke-width="0"/>
<polygon points="427.3,542.0 440.3,556.0 427.3,570.0 414.3,556.0" fill="#ff8000" stroke="none" stroke-width="0"/>
<polygon points="445.3,551.8 458.3,565.8 445.3,579.8 432.3,565.8" fill="#ff8000" stroke="none" stroke-width="0"/>
<polygon points="463.2,559.5 476.2,573.5 463.2,587.5 450.2,573.5" fill="#ff8000" stroke="none" stroke-width="0"/>
<polygon points="481.2,567.8 494.2,581.8 481.2,595.8 468.2,581.8" fill="#ff8000" stroke="none" stroke-width="0"/>
<polygon points="499.1,574.9 512.1,588.9 499.1,602.9 486.1,588.9" fill="#ff8000" stroke="none" stroke-width="0"/>
<polygon points="517.0,583.5 530.0,597.5 517.0,611.5 504.0,597.5" fill="#ff8000" stroke="none" stroke-width="0"/>
<polygon points="535.0,588.8 548.0,602.8 535.0,616.8 522.0,602.8" fill="#ff8000" stroke="none" stroke-width="0"/>
<polygon points="552.9,596.0 565.9,610.0 552.9,624.0 539.9,610.0" fill="#ff8000" stroke="none" stroke-width="0"/>
<polygon points="570.9,602.8 583.9,616.8 570.9,630.8 557.9,616.8" fill="#ff8000" stroke="none" stroke-width="0"/>
<polygon points="588.8,609.0 601.8,623.0 588.8,637.0 575.8,623.0" fill="#ff8000" stroke="none" stroke-width="0"/>
<polygon points="606.7,615.2 619.7,629.2 606.7,643.2 593.7,629.2" fill="#ff8000" stroke="none" stroke-width="0"/>
<polygon points="624.7,620.6 637.7,634.6 624.7,648.6 611.7,634.6" fill="#ff8000" stroke="none" stroke-width="0"/>
<polygon points="642.6,624.1 655.6,638.1 642.6,652.1 629.6,638.1" fill="#ff8000" stroke="none" stroke-width="0"/>
<polygon points="660.6,628.0 673.6,642.0 660.6,656.0 647.6,642.0" fill="#ff8000" stroke="none" stroke-width="0"/>
<polygon points="678.5,631.5 691.5,645.5 678.5,659.5 665.5,645.5" fill="#ff8000" stroke="none" stroke-width="0"/>
<polygon points="696.4,634.5 709.4,648.5 696.4,662.5 683.4,648.5" fill="#ff8000" stroke="none" stroke-width="0"/>
<polygon points="714.4,637.2 727.4,651.2 714.4,665.2 701.4,651.2" fill="#ff8000" stroke="none" stroke-width="0"/>
<polygon points="732.3,640.4 745.3,654.4 732.3,668.4 719.3,654.4" fill="#ff8000" stroke="none" stroke-width="0"/>
<polygon points="750.3,643.7 763.3,657.7 750.3,671.7 737.3,657.7" fill="#ff8000" stroke="none" stroke-width="0"/>
<polygon points="768.2,646.7 781.2,660.7 768.2,674.7 755.2,660.7" fill="#ff8000" stroke="none" stroke-width="0"/>
<polygon points="786.1,649.6 799.1,663.6 786.1,677.6 773.1,663.6" fill="#ff8000" stroke="none" stroke-width="0"/>
<polygon points="804.1,652.6 817.1,666.6 804.1,680.6 791.1,666.6" fill="#ff8000" stroke="none" stroke-width="0"/>
<polygon points="822.0,655.6 835.0,669.6 822.0,683.6 809.0,669.6" fill="#ff8000" stroke="none" stroke-width="0"/>
<polygon points="840.0,657.9 853.0,671.9 840.0,685.9 827.0,671.9" fill="#ff8000" stroke="none" stroke-width="0"/>
<polygon points="857.9,660.3 870.9,674.3 857.9,688.3 844.9,674.3" fill="#ff8000" stroke="none" stroke-width="0"/>
<polygon points="875.8,662.7 888.8,676.7 875.8,690.7 862.8,676.7" fill="#ff8000" stroke="none" stroke-width="0"/>
<polygon points="893.8,664.7 906.8,678.7 893.8,692.7 880.8,678.7" fill="#ff8000" stroke="none" stroke-width="0"/>
<polygon points="911.7,666.2 924.7,680.2 911.7,694.2 898.7,680.2" fill="#ff8000" stroke="none" stroke-width="0"/>
<polygon points="929.7,667.7 942.7,681.7 929.7,695.7 916.7,681.7" fill="#ff8000" stroke="none" stroke-width="0"/>
<polygon points="947.6,669.2 960.6,683.2 947.6,697.2 934.6,683.2" fill="#ff8000" stroke="none" stroke-width="0"/>
<polygon points="965.5,670.7 978.5,684.7 965.5,698.7 952.5,684.7" fill="#ff8000" stroke="none" stroke-width="0"/>
<polygon points="983.5,672.5 996.5,686.5 983.5,700.5 970.5,686.5" fill="#ff8000" stroke="none" stroke-width="0"/>
<polygon points="1001.4,673.9 1014.4,687.9 1001.4,701.9 988.4,687.9" fill="#ff8000" stroke="none" stroke-width="0"/>
<polygon points="1019.4,675.4 1032.4,689.4 1019.4,703.4 1006.4,689.4" fill="#ff8000" stroke="none" stroke-width="0"/>
<polygon points="1037.3,676.9 1050.3,690.9 1037.3,704.9 1024.3,690.9" fill="#ff8000" stroke="none" stroke-width="0"/>
<polygon points="1055.2,678.4 1068.2,692.4 1055.2,706.4 1042.2,692.4" fill="#ff8000" stroke="none" stroke-width="0"/>
<polygon points="1073.2,679.9 1086.2,693.9 1073.2,707.9 1060.2,693.9" fill="#ff8000" stroke="none" stroke-width="0"/>
<polygon points="1091.1,681.4 1104.1,695.4 1091.1,709.4 1078.1,695.4" fill="#ff8000" stroke="none" stroke-width="0"/>
<polygon points="1109.1,682.8 1122.1,696.8 1109.1,710.8 1096.1,696.8" fill="#ff8000" stroke="none" stroke-width="0"/>
<polygon points="1127.0,684.3 1140.0,698.3 1127.0,712.3 1114.0,698.3" fill="#ff8000" stroke="none" stroke-width="0"/>
<polyline points="247.9,70.3 265.9,245.9 283.8,275.2 301.8,290.6 319.7,302.8 337.6,314.1 355.6,322.9 373.5,331.5 391.5,338.1 409.4,344.3 427.3,349.7 445.3,355.1 463.2,361.8 481.2,368.7 499.1,375.4 517.0,383.7 535.0,392.7 552.9,403.1 570.9,414.8 588.8,423.8 606.7,432.9 624.7,442.3 642.6,451.4 660.6,458.2 678.5,467.3 696.4,472.6 714.4,477.8 732.3,483.4 750.3,488.7 768.2,493.9 786.1,498.0 804.1,502.1 822.0,506.8 840.0,511.0 857.9,516.0 875.8,519.0 893.8,523.1 911.7,526.2 929.7,529.2 947.6,534.3 965.5,537.3 983.5,539.1 1001.4,542.4 1019.4,547.5 1037.3,549.3 1055.2,551.4 1073.2,555.3 1091.1,557.4 1109.1,559.5 1127.0,561.6" fill="none" stroke="#00009c" stroke-width="3.2" stroke-linejoin="round" stroke-linecap="round" />
<circle cx="247.9" cy="70.3" r="9.8" fill="#fff" stroke="#9494d6" stroke-width="1.7"/>
<circle cx="265.9" cy="245.9" r="9.8" fill="#fff" stroke="#9494d6" stroke-width="1.7"/>
<circle cx="283.8" cy="275.2" r="9.8" fill="#fff" stroke="#9494d6" stroke-width="1.7"/>
<circle cx="301.8" cy="290.6" r="9.8" fill="#fff" stroke="#9494d6" stroke-width="1.7"/>
<circle cx="319.7" cy="302.8" r="9.8" fill="#fff" stroke="#9494d6" stroke-width="1.7"/>
<circle cx="337.6" cy="314.1" r="9.8" fill="#fff" stroke="#9494d6" stroke-width="1.7"/>
<circle cx="355.6" cy="322.9" r="9.8" fill="#fff" stroke="#9494d6" stroke-width="1.7"/>
<circle cx="373.5" cy="331.5" r="9.8" fill="#fff" stroke="#9494d6" stroke-width="1.7"/>
<circle cx="391.5" cy="338.1" r="9.8" fill="#fff" stroke="#9494d6" stroke-width="1.7"/>
<circle cx="409.4" cy="344.3" r="9.8" fill="#fff" stroke="#9494d6" stroke-width="1.7"/>
<circle cx="427.3" cy="349.7" r="9.8" fill="#fff" stroke="#9494d6" stroke-width="1.7"/>
<circle cx="445.3" cy="355.1" r="9.8" fill="#fff" stroke="#9494d6" stroke-width="1.7"/>
<circle cx="463.2" cy="361.8" r="9.8" fill="#fff" stroke="#9494d6" stroke-width="1.7"/>
<circle cx="481.2" cy="368.7" r="9.8" fill="#fff" stroke="#9494d6" stroke-width="1.7"/>
<circle cx="499.1" cy="375.4" r="9.8" fill="#fff" stroke="#9494d6" stroke-width="1.7"/>
<circle cx="517.0" cy="383.7" r="9.8" fill="#fff" stroke="#9494d6" stroke-width="1.7"/>
<circle cx="535.0" cy="392.7" r="9.8" fill="#fff" stroke="#9494d6" stroke-width="1.7"/>
<circle cx="552.9" cy="403.1" r="9.8" fill="#fff" stroke="#9494d6" stroke-width="1.7"/>
<circle cx="570.9" cy="414.8" r="9.8" fill="#fff" stroke="#9494d6" stroke-width="1.7"/>
<circle cx="588.8" cy="423.8" r="9.8" fill="#fff" stroke="#9494d6" stroke-width="1.7"/>
<circle cx="606.7" cy="432.9" r="9.8" fill="#fff" stroke="#9494d6" stroke-width="1.7"/>
<circle cx="624.7" cy="442.3" r="9.8" fill="#fff" stroke="#9494d6" stroke-width="1.7"/>
<circle cx="642.6" cy="451.4" r="9.8" fill="#fff" stroke="#9494d6" stroke-width="1.7"/>
<circle cx="660.6" cy="458.2" r="9.8" fill="#fff" stroke="#9494d6" stroke-width="1.7"/>
<circle cx="678.5" cy="467.3" r="9.8" fill="#fff" stroke="#9494d6" stroke-width="1.7"/>
<circle cx="696.4" cy="472.6" r="9.8" fill="#fff" stroke="#9494d6" stroke-width="1.7"/>
<circle cx="714.4" cy="477.8" r="9.8" fill="#fff" stroke="#9494d6" stroke-width="1.7"/>
<circle cx="732.3" cy="483.4" r="9.8" fill="#fff" stroke="#9494d6" stroke-width="1.7"/>
<circle cx="750.3" cy="488.7" r="9.8" fill="#fff" stroke="#9494d6" stroke-width="1.7"/>
<circle cx="768.2" cy="493.9" r="9.8" fill="#fff" stroke="#9494d6" stroke-width="1.7"/>
<circle cx="786.1" cy="498.0" r="9.8" fill="#fff" stroke="#9494d6" stroke-width="1.7"/>
<circle cx="804.1" cy="502.1" r="9.8" fill="#fff" stroke="#9494d6" stroke-width="1.7"/>
<circle cx="822.0" cy="506.8" r="9.8" fill="#fff" stroke="#9494d6" stroke-width="1.7"/>
<circle cx="840.0" cy="511.0" r="9.8" fill="#fff" stroke="#9494d6" stroke-width="1.7"/>
<circle cx="857.9" cy="516.0" r="9.8" fill="#fff" stroke="#9494d6" stroke-width="1.7"/>
<circle cx="875.8" cy="519.0" r="9.8" fill="#fff" stroke="#9494d6" stroke-width="1.7"/>
<circle cx="893.8" cy="523.1" r="9.8" fill="#fff" stroke="#9494d6" stroke-width="1.7"/>
<circle cx="911.7" cy="526.2" r="9.8" fill="#fff" stroke="#9494d6" stroke-width="1.7"/>
<circle cx="929.7" cy="529.2" r="9.8" fill="#fff" stroke="#9494d6" stroke-width="1.7"/>
<circle cx="947.6" cy="534.3" r="9.8" fill="#fff" stroke="#9494d6" stroke-width="1.7"/>
<circle cx="965.5" cy="537.3" r="9.8" fill="#fff" stroke="#9494d6" stroke-width="1.7"/>
<circle cx="983.5" cy="539.1" r="9.8" fill="#fff" stroke="#9494d6" stroke-width="1.7"/>
<circle cx="1001.4" cy="542.4" r="9.8" fill="#fff" stroke="#9494d6" stroke-width="1.7"/>
<circle cx="1019.4" cy="547.5" r="9.8" fill="#fff" stroke="#9494d6" stroke-width="1.7"/>
<circle cx="1037.3" cy="549.3" r="9.8" fill="#fff" stroke="#9494d6" stroke-width="1.7"/>
<circle cx="1055.2" cy="551.4" r="9.8" fill="#fff" stroke="#9494d6" stroke-width="1.7"/>
<circle cx="1073.2" cy="555.3" r="9.8" fill="#fff" stroke="#9494d6" stroke-width="1.7"/>
<circle cx="1091.1" cy="557.4" r="9.8" fill="#fff" stroke="#9494d6" stroke-width="1.7"/>
<circle cx="1109.1" cy="559.5" r="9.8" fill="#fff" stroke="#9494d6" stroke-width="1.7"/>
<circle cx="1127.0" cy="561.6" r="9.8" fill="#fff" stroke="#9494d6" stroke-width="1.7"/>
<polyline points="247.9,233.7 265.9,265.7 283.8,285.9 301.8,300.4 319.7,312.6 337.6,322.1 355.6,330.1 373.5,336.6 391.5,343.4 409.4,350.2 427.3,355.6 445.3,360.9 463.2,367.4 481.2,374.2 499.1,380.9 517.0,389.1 535.0,398.0 552.9,408.3 570.9,419.9 588.8,428.8 606.7,437.7 624.7,446.9 642.6,455.8 660.6,462.3 678.5,471.2 696.4,476.2 714.4,481.3 732.3,486.6 750.3,491.7 768.2,496.7 786.1,500.6 804.1,504.4 822.0,508.9 840.0,513.0 857.9,518.0 875.8,521.0 893.8,525.0 911.7,528.1 929.7,531.1 947.6,536.1 965.5,539.1 983.5,540.9 1001.4,544.1 1019.4,549.2 1037.3,551.0 1055.2,553.0 1073.2,556.9 1091.1,559.0 1109.1,561.0 1127.0,563.1" fill="none" stroke="#00009c" stroke-width="7" stroke-linejoin="round" stroke-linecap="round" />
<polyline points="301.8,300.4 319.7,312.6 337.6,322.1 355.6,330.1 373.5,336.6 391.5,343.4 409.4,350.2 427.3,355.6 445.3,360.9 463.2,367.4 481.2,374.2 499.1,380.9 517.0,389.1 535.0,398.0 552.9,408.3 570.9,419.9 588.8,428.8 606.7,437.7 624.7,446.9 642.6,455.8 660.6,462.3 678.5,471.2 696.4,476.2 714.4,481.3 732.3,486.6 750.3,491.7 768.2,496.7 786.1,500.6 804.1,504.4 822.0,508.9 840.0,513.0 857.9,518.0 875.8,521.0 893.8,525.0 911.7,528.1 929.7,531.1 947.6,536.1 965.5,539.1 983.5,540.9 1001.4,544.1 1019.4,549.2 1037.3,551.0 1055.2,553.0 1073.2,556.9 1091.1,559.0 1109.1,561.0 1127.0,563.1" fill="none" stroke="#00009c" stroke-width="12" stroke-linejoin="round" stroke-linecap="round" />
<circle cx="247.9" cy="233.7" r="11.3" fill="#00009c" stroke="none" stroke-width="0"/>
<circle cx="265.9" cy="265.7" r="11.3" fill="#00009c" stroke="none" stroke-width="0"/>
<circle cx="283.8" cy="285.9" r="11.3" fill="#00009c" stroke="none" stroke-width="0"/>
<circle cx="301.8" cy="300.4" r="11.3" fill="#00009c" stroke="none" stroke-width="0"/>
<circle cx="319.7" cy="312.6" r="11.3" fill="#00009c" stroke="none" stroke-width="0"/>
<circle cx="337.6" cy="322.1" r="11.3" fill="#00009c" stroke="none" stroke-width="0"/>
<circle cx="355.6" cy="330.1" r="11.3" fill="#00009c" stroke="none" stroke-width="0"/>
<circle cx="373.5" cy="336.6" r="11.3" fill="#00009c" stroke="none" stroke-width="0"/>
<circle cx="391.5" cy="343.4" r="11.3" fill="#00009c" stroke="none" stroke-width="0"/>
<circle cx="409.4" cy="350.2" r="11.3" fill="#00009c" stroke="none" stroke-width="0"/>
<circle cx="427.3" cy="355.6" r="11.3" fill="#00009c" stroke="none" stroke-width="0"/>
<circle cx="445.3" cy="360.9" r="11.3" fill="#00009c" stroke="none" stroke-width="0"/>
<circle cx="463.2" cy="367.4" r="11.3" fill="#00009c" stroke="none" stroke-width="0"/>
<circle cx="481.2" cy="374.2" r="11.3" fill="#00009c" stroke="none" stroke-width="0"/>
<circle cx="499.1" cy="380.9" r="11.3" fill="#00009c" stroke="none" stroke-width="0"/>
<circle cx="517.0" cy="389.1" r="11.3" fill="#00009c" stroke="none" stroke-width="0"/>
<circle cx="535.0" cy="398.0" r="11.3" fill="#00009c" stroke="none" stroke-width="0"/>
<circle cx="552.9" cy="408.3" r="11.3" fill="#00009c" stroke="none" stroke-width="0"/>
<circle cx="570.9" cy="419.9" r="11.3" fill="#00009c" stroke="none" stroke-width="0"/>
<circle cx="588.8" cy="428.8" r="11.3" fill="#00009c" stroke="none" stroke-width="0"/>
<circle cx="606.7" cy="437.7" r="11.3" fill="#00009c" stroke="none" stroke-width="0"/>
<circle cx="624.7" cy="446.9" r="11.3" fill="#00009c" stroke="none" stroke-width="0"/>
<circle cx="642.6" cy="455.8" r="11.3" fill="#00009c" stroke="none" stroke-width="0"/>
<circle cx="660.6" cy="462.3" r="11.3" fill="#00009c" stroke="none" stroke-width="0"/>
<circle cx="678.5" cy="471.2" r="11.3" fill="#00009c" stroke="none" stroke-width="0"/>
<circle cx="696.4" cy="476.2" r="11.3" fill="#00009c" stroke="none" stroke-width="0"/>
<circle cx="714.4" cy="481.3" r="11.3" fill="#00009c" stroke="none" stroke-width="0"/>
<circle cx="732.3" cy="486.6" r="11.3" fill="#00009c" stroke="none" stroke-width="0"/>
<circle cx="750.3" cy="491.7" r="11.3" fill="#00009c" stroke="none" stroke-width="0"/>
<circle cx="768.2" cy="496.7" r="11.3" fill="#00009c" stroke="none" stroke-width="0"/>
<circle cx="786.1" cy="500.6" r="11.3" fill="#00009c" stroke="none" stroke-width="0"/>
<circle cx="804.1" cy="504.4" r="11.3" fill="#00009c" stroke="none" stroke-width="0"/>
<circle cx="822.0" cy="508.9" r="11.3" fill="#00009c" stroke="none" stroke-width="0"/>
<circle cx="840.0" cy="513.0" r="11.3" fill="#00009c" stroke="none" stroke-width="0"/>
<circle cx="857.9" cy="518.0" r="11.3" fill="#00009c" stroke="none" stroke-width="0"/>
<circle cx="875.8" cy="521.0" r="11.3" fill="#00009c" stroke="none" stroke-width="0"/>
<circle cx="893.8" cy="525.0" r="11.3" fill="#00009c" stroke="none" stroke-width="0"/>
<circle cx="911.7" cy="528.1" r="11.3" fill="#00009c" stroke="none" stroke-width="0"/>
<circle cx="929.7" cy="531.1" r="11.3" fill="#00009c" stroke="none" stroke-width="0"/>
<circle cx="947.6" cy="536.1" r="11.3" fill="#00009c" stroke="none" stroke-width="0"/>
<circle cx="965.5" cy="539.1" r="11.3" fill="#00009c" stroke="none" stroke-width="0"/>
<circle cx="983.5" cy="540.9" r="11.3" fill="#00009c" stroke="none" stroke-width="0"/>
<circle cx="1001.4" cy="544.1" r="11.3" fill="#00009c" stroke="none" stroke-width="0"/>
<circle cx="1019.4" cy="549.2" r="11.3" fill="#00009c" stroke="none" stroke-width="0"/>
<circle cx="1037.3" cy="551.0" r="11.3" fill="#00009c" stroke="none" stroke-width="0"/>
<circle cx="1055.2" cy="553.0" r="11.3" fill="#00009c" stroke="none" stroke-width="0"/>
<circle cx="1073.2" cy="556.9" r="11.3" fill="#00009c" stroke="none" stroke-width="0"/>
<circle cx="1091.1" cy="559.0" r="11.3" fill="#00009c" stroke="none" stroke-width="0"/>
<circle cx="1109.1" cy="561.0" r="11.3" fill="#00009c" stroke="none" stroke-width="0"/>
<circle cx="1127.0" cy="563.1" r="11.3" fill="#00009c" stroke="none" stroke-width="0"/>
</g>
<g clip-path="url(#cb)">
<polyline points="1396.8,472.4 1414.0,330.7 1431.2,273.0 1448.5,257.4 1465.8,199.7 1483.0,183.1 1500.2,169.4 1517.5,161.6 1534.8,155.8 1552.0,148.9 1569.2,143.1 1586.5,137.7 1603.8,134.3 1621.0,130.4 1638.2,127.4 1655.5,123.5 1672.8,120.6 1690.0,117.2 1707.2,115.7 1724.5,118.6 1741.8,109.3 1759.0,109.3 1776.2,108.9 1793.5,107.9 1810.8,107.2 1828.0,106.9 1845.2,106.9 1862.5,105.9 1879.8,104.0 1897.0,100.1 1914.2,103.0 1931.5,102.0 1948.8,101.5 1966.0,101.1 1983.2,100.6 2000.5,100.1 2017.8,99.7 2035.0,99.2 2052.2,98.8 2069.5,98.3 2086.8,97.8 2104.0,97.4 2121.2,96.9 2138.5,96.5 2155.8,96.0 2173.0,95.5 2190.2,95.1 2207.5,94.6 2224.8,94.2 2242.0,93.7" fill="none" stroke="#ff0000" stroke-width="5.5" stroke-linejoin="round" stroke-linecap="round" />
<polygon points="1396.8,467.4 1398.1,470.6 1401.5,470.9 1398.9,473.1 1399.7,476.5 1396.8,474.7 1393.8,476.5 1394.6,473.1 1392.0,470.9 1395.4,470.6" fill="#ff0000"/>
<polygon points="1414.0,325.7 1415.3,328.9 1418.8,329.2 1416.1,331.4 1416.9,334.7 1414.0,332.9 1411.1,334.7 1411.9,331.4 1409.2,329.2 1412.7,328.9" fill="#ff0000"/>
<polygon points="1431.2,268.0 1432.6,271.2 1436.0,271.5 1433.4,273.7 1434.2,277.1 1431.2,275.3 1428.3,277.1 1429.1,273.7 1426.5,271.5 1429.9,271.2" fill="#ff0000"/>
<polygon points="1448.5,252.4 1449.8,255.6 1453.3,255.9 1450.6,258.1 1451.4,261.4 1448.5,259.7 1445.6,261.4 1446.4,258.1 1443.7,255.9 1447.2,255.6" fill="#ff0000"/>
<polygon points="1465.8,194.7 1467.1,197.9 1470.5,198.2 1467.9,200.4 1468.7,203.8 1465.8,202.0 1462.8,203.8 1463.6,200.4 1461.0,198.2 1464.4,197.9" fill="#ff0000"/>
<polygon points="1483.0,178.1 1484.3,181.3 1487.8,181.6 1485.1,183.8 1485.9,187.2 1483.0,185.4 1480.1,187.2 1480.9,183.8 1478.2,181.6 1481.7,181.3" fill="#ff0000"/>
<polygon points="1500.2,164.4 1501.6,167.6 1505.0,167.9 1502.4,170.1 1503.2,173.5 1500.2,171.7 1497.3,173.5 1498.1,170.1 1495.5,167.9 1498.9,167.6" fill="#ff0000"/>
<polygon points="1517.5,156.6 1518.8,159.8 1522.3,160.1 1519.6,162.3 1520.4,165.7 1517.5,163.9 1514.6,165.7 1515.4,162.3 1512.7,160.1 1516.2,159.8" fill="#ff0000"/>
<polygon points="1534.8,150.8 1536.1,153.9 1539.5,154.2 1536.9,156.5 1537.7,159.8 1534.8,158.0 1531.8,159.8 1532.6,156.5 1530.0,154.2 1533.4,153.9" fill="#ff0000"/>
<polygon points="1552.0,143.9 1553.3,147.1 1556.8,147.4 1554.1,149.6 1554.9,153.0 1552.0,151.2 1549.1,153.0 1549.9,149.6 1547.2,147.4 1550.7,147.1" fill="#ff0000"/>
<polygon points="1569.2,138.1 1570.6,141.2 1574.0,141.5 1571.4,143.8 1572.2,147.1 1569.2,145.3 1566.3,147.1 1567.1,143.8 1564.5,141.5 1567.9,141.2" fill="#ff0000"/>
<polygon points="1586.5,132.7 1587.8,135.9 1591.3,136.1 1588.6,138.4 1589.4,141.7 1586.5,139.9 1583.6,141.7 1584.4,138.4 1581.7,136.1 1585.2,135.9" fill="#ff0000"/>
<polygon points="1603.8,129.3 1605.1,132.4 1608.5,132.7 1605.9,135.0 1606.7,138.3 1603.8,136.5 1600.8,138.3 1601.6,135.0 1599.0,132.7 1602.4,132.4" fill="#ff0000"/>
<polygon points="1621.0,125.4 1622.3,128.5 1625.8,128.8 1623.1,131.0 1623.9,134.4 1621.0,132.6 1618.1,134.4 1618.9,131.0 1616.2,128.8 1619.7,128.5" fill="#ff0000"/>
<polygon points="1638.2,122.4 1639.6,125.6 1643.0,125.9 1640.4,128.1 1641.2,131.5 1638.2,129.7 1635.3,131.5 1636.1,128.1 1633.5,125.9 1636.9,125.6" fill="#ff0000"/>
<polygon points="1655.5,118.5 1656.8,121.7 1660.3,122.0 1657.6,124.2 1658.4,127.6 1655.5,125.8 1652.6,127.6 1653.4,124.2 1650.7,122.0 1654.2,121.7" fill="#ff0000"/>
<polygon points="1672.8,115.6 1674.1,118.8 1677.5,119.0 1674.9,121.3 1675.7,124.6 1672.8,122.8 1669.8,124.6 1670.6,121.3 1668.0,119.0 1671.4,118.8" fill="#ff0000"/>
<polygon points="1690.0,112.2 1691.3,115.3 1694.8,115.6 1692.1,117.9 1692.9,121.2 1690.0,119.4 1687.1,121.2 1687.9,117.9 1685.2,115.6 1688.7,115.3" fill="#ff0000"/>
<polygon points="1707.2,110.7 1708.6,113.9 1712.0,114.1 1709.4,116.4 1710.2,119.7 1707.2,117.9 1704.3,119.7 1705.1,116.4 1702.5,114.1 1705.9,113.9" fill="#ff0000"/>
<polygon points="1724.5,113.6 1725.8,116.8 1729.3,117.1 1726.6,119.3 1727.4,122.7 1724.5,120.9 1721.6,122.7 1722.4,119.3 1719.7,117.1 1723.2,116.8" fill="#ff0000"/>
<polygon points="1741.8,104.3 1743.1,107.5 1746.5,107.8 1743.9,110.0 1744.7,113.4 1741.8,111.6 1738.8,113.4 1739.6,110.0 1737.0,107.8 1740.4,107.5" fill="#ff0000"/>
<polygon points="1759.0,104.3 1760.3,107.5 1763.8,107.8 1761.1,110.0 1761.9,113.4 1759.0,111.6 1756.1,113.4 1756.9,110.0 1754.2,107.8 1757.7,107.5" fill="#ff0000"/>
<polygon points="1776.2,103.9 1777.6,107.0 1781.0,107.3 1778.4,109.5 1779.2,112.9 1776.2,111.1 1773.3,112.9 1774.1,109.5 1771.5,107.3 1774.9,107.0" fill="#ff0000"/>
<polygon points="1793.5,102.9 1794.8,106.1 1798.3,106.3 1795.6,108.6 1796.4,111.9 1793.5,110.1 1790.6,111.9 1791.4,108.6 1788.7,106.3 1792.2,106.1" fill="#ff0000"/>
<polygon points="1810.8,102.2 1812.1,105.4 1815.5,105.6 1812.9,107.9 1813.7,111.2 1810.8,109.4 1807.8,111.2 1808.6,107.9 1806.0,105.6 1809.4,105.4" fill="#ff0000"/>
<polygon points="1828.0,101.9 1829.3,105.1 1832.8,105.4 1830.1,107.6 1830.9,110.9 1828.0,109.1 1825.1,110.9 1825.9,107.6 1823.2,105.4 1826.7,105.1" fill="#ff0000"/>
<polygon points="1845.2,101.9 1846.6,105.1 1850.0,105.4 1847.4,107.6 1848.2,110.9 1845.2,109.1 1842.3,110.9 1843.1,107.6 1840.5,105.4 1843.9,105.1" fill="#ff0000"/>
<polygon points="1862.5,100.9 1863.8,104.1 1867.3,104.4 1864.6,106.6 1865.4,110.0 1862.5,108.2 1859.6,110.0 1860.4,106.6 1857.7,104.4 1861.2,104.1" fill="#ff0000"/>
<polygon points="1879.8,99.0 1881.1,102.1 1884.5,102.4 1881.9,104.7 1882.7,108.0 1879.8,106.2 1876.8,108.0 1877.6,104.7 1875.0,102.4 1878.4,102.1" fill="#ff0000"/>
<polygon points="1897.0,95.1 1898.3,98.2 1901.8,98.5 1899.1,100.8 1899.9,104.1 1897.0,102.3 1894.1,104.1 1894.9,100.8 1892.2,98.5 1895.7,98.2" fill="#ff0000"/>
<polygon points="1914.2,98.0 1915.6,101.2 1919.0,101.4 1916.4,103.7 1917.2,107.0 1914.2,105.2 1911.3,107.0 1912.1,103.7 1909.5,101.4 1912.9,101.2" fill="#ff0000"/>
<polygon points="1931.5,97.0 1932.8,100.2 1936.3,100.5 1933.6,102.7 1934.4,106.1 1931.5,104.3 1928.6,106.1 1929.4,102.7 1926.7,100.5 1930.2,100.2" fill="#ff0000"/>
<polygon points="1948.8,96.5 1950.1,99.7 1953.5,100.0 1950.9,102.2 1951.7,105.6 1948.8,103.8 1945.8,105.6 1946.6,102.2 1944.0,100.0 1947.4,99.7" fill="#ff0000"/>
<polygon points="1966.0,96.1 1967.3,99.2 1970.8,99.5 1968.1,101.8 1968.9,105.1 1966.0,103.3 1963.1,105.1 1963.9,101.8 1961.2,99.5 1964.7,99.2" fill="#ff0000"/>
<polygon points="1983.2,95.6 1984.6,98.8 1988.0,99.1 1985.4,101.3 1986.2,104.6 1983.2,102.9 1980.3,104.6 1981.1,101.3 1978.5,99.1 1981.9,98.8" fill="#ff0000"/>
<polygon points="2000.5,95.1 2001.8,98.3 2005.3,98.6 2002.6,100.8 2003.4,104.2 2000.5,102.4 1997.6,104.2 1998.4,100.8 1995.7,98.6 1999.2,98.3" fill="#ff0000"/>
<polygon points="2017.8,94.7 2019.1,97.9 2022.5,98.1 2019.9,100.4 2020.7,103.7 2017.8,101.9 2014.8,103.7 2015.6,100.4 2013.0,98.1 2016.4,97.9" fill="#ff0000"/>
<polygon points="2035.0,94.2 2036.3,97.4 2039.8,97.7 2037.1,99.9 2037.9,103.3 2035.0,101.5 2032.1,103.3 2032.9,99.9 2030.2,97.7 2033.7,97.4" fill="#ff0000"/>
<polygon points="2052.2,93.8 2053.6,96.9 2057.0,97.2 2054.4,99.5 2055.2,102.8 2052.2,101.0 2049.3,102.8 2050.1,99.5 2047.5,97.2 2050.9,96.9" fill="#ff0000"/>
<polygon points="2069.5,93.3 2070.8,96.5 2074.3,96.8 2071.6,99.0 2072.4,102.3 2069.5,100.6 2066.6,102.3 2067.4,99.0 2064.7,96.8 2068.2,96.5" fill="#ff0000"/>
<polygon points="2086.8,92.8 2088.1,96.0 2091.5,96.3 2088.9,98.5 2089.7,101.9 2086.8,100.1 2083.8,101.9 2084.6,98.5 2082.0,96.3 2085.4,96.0" fill="#ff0000"/>
<polygon points="2104.0,92.4 2105.3,95.6 2108.8,95.8 2106.1,98.1 2106.9,101.4 2104.0,99.6 2101.1,101.4 2101.9,98.1 2099.2,95.8 2102.7,95.6" fill="#ff0000"/>
<polygon points="2121.2,91.9 2122.6,95.1 2126.0,95.4 2123.4,97.6 2124.2,101.0 2121.2,99.2 2118.3,101.0 2119.1,97.6 2116.5,95.4 2119.9,95.1" fill="#ff0000"/>
<polygon points="2138.5,91.5 2139.8,94.6 2143.3,94.9 2140.6,97.2 2141.4,100.5 2138.5,98.7 2135.6,100.5 2136.4,97.2 2133.7,94.9 2137.2,94.6" fill="#ff0000"/>
<polygon points="2155.8,91.0 2157.1,94.2 2160.5,94.5 2157.9,96.7 2158.7,100.0 2155.8,98.3 2152.8,100.0 2153.6,96.7 2151.0,94.5 2154.4,94.2" fill="#ff0000"/>
<polygon points="2173.0,90.5 2174.3,93.7 2177.8,94.0 2175.1,96.2 2175.9,99.6 2173.0,97.8 2170.1,99.6 2170.9,96.2 2168.2,94.0 2171.7,93.7" fill="#ff0000"/>
<polygon points="2190.2,90.1 2191.6,93.3 2195.0,93.5 2192.4,95.8 2193.2,99.1 2190.2,97.3 2187.3,99.1 2188.1,95.8 2185.5,93.5 2188.9,93.3" fill="#ff0000"/>
<polygon points="2207.5,89.6 2208.8,92.8 2212.3,93.1 2209.6,95.3 2210.4,98.7 2207.5,96.9 2204.6,98.7 2205.4,95.3 2202.7,93.1 2206.2,92.8" fill="#ff0000"/>
<polygon points="2224.8,89.2 2226.1,92.3 2229.5,92.6 2226.9,94.9 2227.7,98.2 2224.8,96.4 2221.8,98.2 2222.6,94.9 2220.0,92.6 2223.4,92.3" fill="#ff0000"/>
<polygon points="2242.0,88.7 2243.3,91.9 2246.8,92.2 2244.1,94.4 2244.9,97.7 2242.0,96.0 2239.1,97.7 2239.9,94.4 2237.2,92.2 2240.7,91.9" fill="#ff0000"/>
<polyline points="1396.8,376.6 1414.0,157.2 1431.2,135.2 1448.5,173.4 1465.8,161.6 1483.0,145.0 1500.2,131.3 1517.5,120.6 1534.8,120.6 1552.0,128.4 1569.2,121.6 1586.5,120.6 1603.8,127.4 1621.0,132.3 1638.2,135.2 1655.5,170.4 1672.8,175.3 1690.0,168.5 1707.2,183.1 1724.5,187.5 1741.8,193.9 1759.0,202.7 1776.2,209.5 1793.5,211.0 1810.8,212.4 1828.0,214.4 1845.2,220.3 1862.5,222.2 1879.8,212.4 1897.0,201.7 1914.2,211.0 1931.5,186.1 1948.8,185.1 1966.0,187.5 1983.2,189.0 2000.5,196.8 2017.8,199.7 2035.0,203.2 2052.2,195.3 2069.5,190.9 2086.8,187.5 2104.0,183.1 2121.2,179.7 2138.5,178.2 2155.8,183.1 2173.0,184.4 2190.2,183.1 2207.5,179.7 2224.8,179.7 2242.0,181.2" fill="none" stroke="#00ff00" stroke-width="5.5" stroke-linejoin="round" stroke-linecap="round" />
<polygon points="1396.8,371.6 1398.1,374.8 1401.5,375.1 1398.9,377.3 1399.7,380.7 1396.8,378.9 1393.8,380.7 1394.6,377.3 1392.0,375.1 1395.4,374.8" fill="#00ff00"/>
<polygon points="1414.0,152.2 1415.3,155.4 1418.8,155.7 1416.1,157.9 1416.9,161.3 1414.0,159.5 1411.1,161.3 1411.9,157.9 1409.2,155.7 1412.7,155.4" fill="#00ff00"/>
<polygon points="1431.2,130.2 1432.6,133.4 1436.0,133.7 1433.4,135.9 1434.2,139.3 1431.2,137.5 1428.3,139.3 1429.1,135.9 1426.5,133.7 1429.9,133.4" fill="#00ff00"/>
<polygon points="1448.5,168.4 1449.8,171.5 1453.3,171.8 1450.6,174.0 1451.4,177.4 1448.5,175.6 1445.6,177.4 1446.4,174.0 1443.7,171.8 1447.2,171.5" fill="#00ff00"/>
<polygon points="1465.8,156.6 1467.1,159.8 1470.5,160.1 1467.9,162.3 1468.7,165.7 1465.8,163.9 1462.8,165.7 1463.6,162.3 1461.0,160.1 1464.4,159.8" fill="#00ff00"/>
<polygon points="1483.0,140.0 1484.3,143.2 1487.8,143.5 1485.1,145.7 1485.9,149.1 1483.0,147.3 1480.1,149.1 1480.9,145.7 1478.2,143.5 1481.7,143.2" fill="#00ff00"/>
<polygon points="1500.2,126.3 1501.6,129.5 1505.0,129.8 1502.4,132.0 1503.2,135.4 1500.2,133.6 1497.3,135.4 1498.1,132.0 1495.5,129.8 1498.9,129.5" fill="#00ff00"/>
<polygon points="1517.5,115.6 1518.8,118.8 1522.3,119.0 1519.6,121.3 1520.4,124.6 1517.5,122.8 1514.6,124.6 1515.4,121.3 1512.7,119.0 1516.2,118.8" fill="#00ff00"/>
<polygon points="1534.8,115.6 1536.1,118.8 1539.5,119.0 1536.9,121.3 1537.7,124.6 1534.8,122.8 1531.8,124.6 1532.6,121.3 1530.0,119.0 1533.4,118.8" fill="#00ff00"/>
<polygon points="1552.0,123.4 1553.3,126.6 1556.8,126.9 1554.1,129.1 1554.9,132.4 1552.0,130.6 1549.1,132.4 1549.9,129.1 1547.2,126.9 1550.7,126.6" fill="#00ff00"/>
<polygon points="1569.2,116.6 1570.6,119.7 1574.0,120.0 1571.4,122.3 1572.2,125.6 1569.2,123.8 1566.3,125.6 1567.1,122.3 1564.5,120.0 1567.9,119.7" fill="#00ff00"/>
<polygon points="1586.5,115.6 1587.8,118.8 1591.3,119.0 1588.6,121.3 1589.4,124.6 1586.5,122.8 1583.6,124.6 1584.4,121.3 1581.7,119.0 1585.2,118.8" fill="#00ff00"/>
<polygon points="1603.8,122.4 1605.1,125.6 1608.5,125.9 1605.9,128.1 1606.7,131.5 1603.8,129.7 1600.8,131.5 1601.6,128.1 1599.0,125.9 1602.4,125.6" fill="#00ff00"/>
<polygon points="1621.0,127.3 1622.3,130.5 1625.8,130.8 1623.1,133.0 1623.9,136.4 1621.0,134.6 1618.1,136.4 1618.9,133.0 1616.2,130.8 1619.7,130.5" fill="#00ff00"/>
<polygon points="1638.2,130.2 1639.6,133.4 1643.0,133.7 1640.4,135.9 1641.2,139.3 1638.2,137.5 1635.3,139.3 1636.1,135.9 1633.5,133.7 1636.9,133.4" fill="#00ff00"/>
<polygon points="1655.5,165.4 1656.8,168.6 1660.3,168.9 1657.6,171.1 1658.4,174.5 1655.5,172.7 1652.6,174.5 1653.4,171.1 1650.7,168.9 1654.2,168.6" fill="#00ff00"/>
<polygon points="1672.8,170.3 1674.1,173.5 1677.5,173.8 1674.9,176.0 1675.7,179.4 1672.8,177.6 1669.8,179.4 1670.6,176.0 1668.0,173.8 1671.4,173.5" fill="#00ff00"/>
<polygon points="1690.0,163.5 1691.3,166.6 1694.8,166.9 1692.1,169.2 1692.9,172.5 1690.0,170.7 1687.1,172.5 1687.9,169.2 1685.2,166.9 1688.7,166.6" fill="#00ff00"/>
<polygon points="1707.2,178.1 1708.6,181.3 1712.0,181.6 1709.4,183.8 1710.2,187.2 1707.2,185.4 1704.3,187.2 1705.1,183.8 1702.5,181.6 1705.9,181.3" fill="#00ff00"/>
<polygon points="1724.5,182.5 1725.8,185.7 1729.3,186.0 1726.6,188.2 1727.4,191.6 1724.5,189.8 1721.6,191.6 1722.4,188.2 1719.7,186.0 1723.2,185.7" fill="#00ff00"/>
<polygon points="1741.8,188.9 1743.1,192.1 1746.5,192.3 1743.9,194.6 1744.7,197.9 1741.8,196.1 1738.8,197.9 1739.6,194.6 1737.0,192.3 1740.4,192.1" fill="#00ff00"/>
<polygon points="1759.0,197.7 1760.3,200.9 1763.8,201.1 1761.1,203.4 1761.9,206.7 1759.0,204.9 1756.1,206.7 1756.9,203.4 1754.2,201.1 1757.7,200.9" fill="#00ff00"/>
<polygon points="1776.2,204.5 1777.6,207.7 1781.0,208.0 1778.4,210.2 1779.2,213.6 1776.2,211.8 1773.3,213.6 1774.1,210.2 1771.5,208.0 1774.9,207.7" fill="#00ff00"/>
<polygon points="1793.5,206.0 1794.8,209.2 1798.3,209.4 1795.6,211.7 1796.4,215.0 1793.5,213.2 1790.6,215.0 1791.4,211.7 1788.7,209.4 1792.2,209.2" fill="#00ff00"/>
<polygon points="1810.8,207.4 1812.1,210.6 1815.5,210.9 1812.9,213.1 1813.7,216.5 1810.8,214.7 1807.8,216.5 1808.6,213.1 1806.0,210.9 1809.4,210.6" fill="#00ff00"/>
<polygon points="1828.0,209.4 1829.3,212.6 1832.8,212.9 1830.1,215.1 1830.9,218.4 1828.0,216.6 1825.1,218.4 1825.9,215.1 1823.2,212.9 1826.7,212.6" fill="#00ff00"/>
<polygon points="1845.2,215.3 1846.6,218.4 1850.0,218.7 1847.4,221.0 1848.2,224.3 1845.2,222.5 1842.3,224.3 1843.1,221.0 1840.5,218.7 1843.9,218.4" fill="#00ff00"/>
<polygon points="1862.5,217.2 1863.8,220.4 1867.3,220.7 1864.6,222.9 1865.4,226.3 1862.5,224.5 1859.6,226.3 1860.4,222.9 1857.7,220.7 1861.2,220.4" fill="#00ff00"/>
<polygon points="1879.8,207.4 1881.1,210.6 1884.5,210.9 1881.9,213.1 1882.7,216.5 1879.8,214.7 1876.8,216.5 1877.6,213.1 1875.0,210.9 1878.4,210.6" fill="#00ff00"/>
<polygon points="1897.0,196.7 1898.3,199.9 1901.8,200.1 1899.1,202.4 1899.9,205.7 1897.0,203.9 1894.1,205.7 1894.9,202.4 1892.2,200.1 1895.7,199.9" fill="#00ff00"/>
<polygon points="1914.2,206.0 1915.6,209.2 1919.0,209.4 1916.4,211.7 1917.2,215.0 1914.2,213.2 1911.3,215.0 1912.1,211.7 1909.5,209.4 1912.9,209.2" fill="#00ff00"/>
<polygon points="1931.5,181.1 1932.8,184.2 1936.3,184.5 1933.6,186.8 1934.4,190.1 1931.5,188.3 1928.6,190.1 1929.4,186.8 1926.7,184.5 1930.2,184.2" fill="#00ff00"/>
<polygon points="1948.8,180.1 1950.1,183.3 1953.5,183.5 1950.9,185.8 1951.7,189.1 1948.8,187.3 1945.8,189.1 1946.6,185.8 1944.0,183.5 1947.4,183.3" fill="#00ff00"/>
<polygon points="1966.0,182.5 1967.3,185.7 1970.8,186.0 1968.1,188.2 1968.9,191.6 1966.0,189.8 1963.1,191.6 1963.9,188.2 1961.2,186.0 1964.7,185.7" fill="#00ff00"/>
<polygon points="1983.2,184.0 1984.6,187.2 1988.0,187.4 1985.4,189.7 1986.2,193.0 1983.2,191.2 1980.3,193.0 1981.1,189.7 1978.5,187.4 1981.9,187.2" fill="#00ff00"/>
<polygon points="2000.5,191.8 2001.8,195.0 2005.3,195.3 2002.6,197.5 2003.4,200.9 2000.5,199.1 1997.6,200.9 1998.4,197.5 1995.7,195.3 1999.2,195.0" fill="#00ff00"/>
<polygon points="2017.8,194.7 2019.1,197.9 2022.5,198.2 2019.9,200.4 2020.7,203.8 2017.8,202.0 2014.8,203.8 2015.6,200.4 2013.0,198.2 2016.4,197.9" fill="#00ff00"/>
<polygon points="2035.0,198.2 2036.3,201.3 2039.8,201.6 2037.1,203.9 2037.9,207.2 2035.0,205.4 2032.1,207.2 2032.9,203.9 2030.2,201.6 2033.7,201.3" fill="#00ff00"/>
<polygon points="2052.2,190.3 2053.6,193.5 2057.0,193.8 2054.4,196.0 2055.2,199.4 2052.2,197.6 2049.3,199.4 2050.1,196.0 2047.5,193.8 2050.9,193.5" fill="#00ff00"/>
<polygon points="2069.5,185.9 2070.8,189.1 2074.3,189.4 2071.6,191.6 2072.4,195.0 2069.5,193.2 2066.6,195.0 2067.4,191.6 2064.7,189.4 2068.2,189.1" fill="#00ff00"/>
<polygon points="2086.8,182.5 2088.1,185.7 2091.5,186.0 2088.9,188.2 2089.7,191.6 2086.8,189.8 2083.8,191.6 2084.6,188.2 2082.0,186.0 2085.4,185.7" fill="#00ff00"/>
<polygon points="2104.0,178.1 2105.3,181.3 2108.8,181.6 2106.1,183.8 2106.9,187.2 2104.0,185.4 2101.1,187.2 2101.9,183.8 2099.2,181.6 2102.7,181.3" fill="#00ff00"/>
<polygon points="2121.2,174.7 2122.6,177.9 2126.0,178.2 2123.4,180.4 2124.2,183.8 2121.2,182.0 2118.3,183.8 2119.1,180.4 2116.5,178.2 2119.9,177.9" fill="#00ff00"/>
<polygon points="2138.5,173.2 2139.8,176.4 2143.3,176.7 2140.6,178.9 2141.4,182.3 2138.5,180.5 2135.6,182.3 2136.4,178.9 2133.7,176.7 2137.2,176.4" fill="#00ff00"/>
<polygon points="2155.8,178.1 2157.1,181.3 2160.5,181.6 2157.9,183.8 2158.7,187.2 2155.8,185.4 2152.8,187.2 2153.6,183.8 2151.0,181.6 2154.4,181.3" fill="#00ff00"/>
<polygon points="2173.0,179.4 2174.3,182.6 2177.8,182.9 2175.1,185.1 2175.9,188.4 2173.0,186.6 2170.1,188.4 2170.9,185.1 2168.2,182.9 2171.7,182.6" fill="#00ff00"/>
<polygon points="2190.2,178.1 2191.6,181.3 2195.0,181.6 2192.4,183.8 2193.2,187.2 2190.2,185.4 2187.3,187.2 2188.1,183.8 2185.5,181.6 2188.9,181.3" fill="#00ff00"/>
<polygon points="2207.5,174.7 2208.8,177.9 2212.3,178.2 2209.6,180.4 2210.4,183.8 2207.5,182.0 2204.6,183.8 2205.4,180.4 2202.7,178.2 2206.2,177.9" fill="#00ff00"/>
<polygon points="2224.8,174.7 2226.1,177.9 2229.5,178.2 2226.9,180.4 2227.7,183.8 2224.8,182.0 2221.8,183.8 2222.6,180.4 2220.0,178.2 2223.4,177.9" fill="#00ff00"/>
<polygon points="2242.0,176.2 2243.3,179.4 2246.8,179.6 2244.1,181.9 2244.9,185.2 2242.0,183.4 2239.1,185.2 2239.9,181.9 2237.2,179.6 2240.7,179.4" fill="#00ff00"/>
<polyline points="1396.8,353.2 1414.0,554.5 1431.2,499.8 1448.5,362.0 1465.8,356.1 1483.0,325.8 1500.2,228.1 1517.5,179.2 1534.8,154.8 1552.0,150.9 1569.2,165.5 1586.5,169.4 1603.8,172.4 1621.0,177.3 1638.2,168.5 1655.5,178.2 1672.8,183.1 1690.0,230.0 1707.2,215.4 1724.5,215.4 1741.8,235.9 1759.0,226.6 1776.2,209.5 1793.5,209.5 1810.8,230.0 1828.0,215.4 1845.2,220.3 1862.5,257.4 1879.8,243.7 1897.0,237.9 1914.2,228.1 1931.5,228.1 1948.8,214.4 1966.0,211.0 1983.2,214.4 2000.5,238.8 2017.8,223.2 2035.0,218.8 2052.2,215.4 2069.5,214.4 2086.8,206.6 2104.0,199.7 2121.2,193.9 2138.5,191.9 2155.8,186.1 2173.0,183.1 2190.2,179.7 2207.5,184.4 2224.8,196.8 2242.0,200.7" fill="none" stroke="#ff8000" stroke-width="5.5" stroke-linejoin="round" stroke-linecap="round" />
<polygon points="1396.8,348.2 1398.1,351.4 1401.5,351.6 1398.9,353.9 1399.7,357.2 1396.8,355.4 1393.8,357.2 1394.6,353.9 1392.0,351.6 1395.4,351.4" fill="#ff8000"/>
<polygon points="1414.0,549.5 1415.3,552.7 1418.8,553.0 1416.1,555.2 1416.9,558.5 1414.0,556.7 1411.1,558.5 1411.9,555.2 1409.2,553.0 1412.7,552.7" fill="#ff8000"/>
<polygon points="1431.2,494.8 1432.6,498.0 1436.0,498.2 1433.4,500.5 1434.2,503.8 1431.2,502.0 1428.3,503.8 1429.1,500.5 1426.5,498.2 1429.9,498.0" fill="#ff8000"/>
<polygon points="1448.5,357.0 1449.8,360.2 1453.3,360.4 1450.6,362.7 1451.4,366.0 1448.5,364.2 1445.6,366.0 1446.4,362.7 1443.7,360.4 1447.2,360.2" fill="#ff8000"/>
<polygon points="1465.8,351.1 1467.1,354.3 1470.5,354.6 1467.9,356.8 1468.7,360.2 1465.8,358.4 1462.8,360.2 1463.6,356.8 1461.0,354.6 1464.4,354.3" fill="#ff8000"/>
<polygon points="1483.0,320.8 1484.3,324.0 1487.8,324.3 1485.1,326.5 1485.9,329.9 1483.0,328.1 1480.1,329.9 1480.9,326.5 1478.2,324.3 1481.7,324.0" fill="#ff8000"/>
<polygon points="1500.2,223.1 1501.6,226.3 1505.0,226.5 1502.4,228.8 1503.2,232.1 1500.2,230.3 1497.3,232.1 1498.1,228.8 1495.5,226.5 1498.9,226.3" fill="#ff8000"/>
<polygon points="1517.5,174.2 1518.8,177.4 1522.3,177.7 1519.6,179.9 1520.4,183.3 1517.5,181.5 1514.6,183.3 1515.4,179.9 1512.7,177.7 1516.2,177.4" fill="#ff8000"/>
<polygon points="1534.8,149.8 1536.1,153.0 1539.5,153.2 1536.9,155.5 1537.7,158.8 1534.8,157.0 1531.8,158.8 1532.6,155.5 1530.0,153.2 1533.4,153.0" fill="#ff8000"/>
<polygon points="1552.0,145.9 1553.3,149.1 1556.8,149.3 1554.1,151.6 1554.9,154.9 1552.0,153.1 1549.1,154.9 1549.9,151.6 1547.2,149.3 1550.7,149.1" fill="#ff8000"/>
<polygon points="1569.2,160.5 1570.6,163.7 1574.0,164.0 1571.4,166.2 1572.2,169.6 1569.2,167.8 1566.3,169.6 1567.1,166.2 1564.5,164.0 1567.9,163.7" fill="#ff8000"/>
<polygon points="1586.5,164.4 1587.8,167.6 1591.3,167.9 1588.6,170.1 1589.4,173.5 1586.5,171.7 1583.6,173.5 1584.4,170.1 1581.7,167.9 1585.2,167.6" fill="#ff8000"/>
<polygon points="1603.8,167.4 1605.1,170.6 1608.5,170.8 1605.9,173.1 1606.7,176.4 1603.8,174.6 1600.8,176.4 1601.6,173.1 1599.0,170.8 1602.4,170.6" fill="#ff8000"/>
<polygon points="1621.0,172.3 1622.3,175.4 1625.8,175.7 1623.1,178.0 1623.9,181.3 1621.0,179.5 1618.1,181.3 1618.9,178.0 1616.2,175.7 1619.7,175.4" fill="#ff8000"/>
<polygon points="1638.2,163.5 1639.6,166.6 1643.0,166.9 1640.4,169.2 1641.2,172.5 1638.2,170.7 1635.3,172.5 1636.1,169.2 1633.5,166.9 1636.9,166.6" fill="#ff8000"/>
<polygon points="1655.5,173.2 1656.8,176.4 1660.3,176.7 1657.6,178.9 1658.4,182.3 1655.5,180.5 1652.6,182.3 1653.4,178.9 1650.7,176.7 1654.2,176.4" fill="#ff8000"/>
<polygon points="1672.8,178.1 1674.1,181.3 1677.5,181.6 1674.9,183.8 1675.7,187.2 1672.8,185.4 1669.8,187.2 1670.6,183.8 1668.0,181.6 1671.4,181.3" fill="#ff8000"/>
<polygon points="1690.0,225.0 1691.3,228.2 1694.8,228.5 1692.1,230.7 1692.9,234.1 1690.0,232.3 1687.1,234.1 1687.9,230.7 1685.2,228.5 1688.7,228.2" fill="#ff8000"/>
<polygon points="1707.2,210.4 1708.6,213.6 1712.0,213.8 1709.4,216.1 1710.2,219.4 1707.2,217.6 1704.3,219.4 1705.1,216.1 1702.5,213.8 1705.9,213.6" fill="#ff8000"/>
<polygon points="1724.5,210.4 1725.8,213.6 1729.3,213.8 1726.6,216.1 1727.4,219.4 1724.5,217.6 1721.6,219.4 1722.4,216.1 1719.7,213.8 1723.2,213.6" fill="#ff8000"/>
<polygon points="1741.8,230.9 1743.1,234.1 1746.5,234.4 1743.9,236.6 1744.7,239.9 1741.8,238.1 1738.8,239.9 1739.6,236.6 1737.0,234.4 1740.4,234.1" fill="#ff8000"/>
<polygon points="1759.0,221.6 1760.3,224.8 1763.8,225.1 1761.1,227.3 1761.9,230.7 1759.0,228.9 1756.1,230.7 1756.9,227.3 1754.2,225.1 1757.7,224.8" fill="#ff8000"/>
<polygon points="1776.2,204.5 1777.6,207.7 1781.0,208.0 1778.4,210.2 1779.2,213.6 1776.2,211.8 1773.3,213.6 1774.1,210.2 1771.5,208.0 1774.9,207.7" fill="#ff8000"/>
<polygon points="1793.5,204.5 1794.8,207.7 1798.3,208.0 1795.6,210.2 1796.4,213.6 1793.5,211.8 1790.6,213.6 1791.4,210.2 1788.7,208.0 1792.2,207.7" fill="#ff8000"/>
<polygon points="1810.8,225.0 1812.1,228.2 1815.5,228.5 1812.9,230.7 1813.7,234.1 1810.8,232.3 1807.8,234.1 1808.6,230.7 1806.0,228.5 1809.4,228.2" fill="#ff8000"/>
<polygon points="1828.0,210.4 1829.3,213.6 1832.8,213.8 1830.1,216.1 1830.9,219.4 1828.0,217.6 1825.1,219.4 1825.9,216.1 1823.2,213.8 1826.7,213.6" fill="#ff8000"/>
<polygon points="1845.2,215.3 1846.6,218.4 1850.0,218.7 1847.4,221.0 1848.2,224.3 1845.2,222.5 1842.3,224.3 1843.1,221.0 1840.5,218.7 1843.9,218.4" fill="#ff8000"/>
<polygon points="1862.5,252.4 1863.8,255.6 1867.3,255.9 1864.6,258.1 1865.4,261.4 1862.5,259.7 1859.6,261.4 1860.4,258.1 1857.7,255.9 1861.2,255.6" fill="#ff8000"/>
<polygon points="1879.8,238.7 1881.1,241.9 1884.5,242.2 1881.9,244.4 1882.7,247.8 1879.8,246.0 1876.8,247.8 1877.6,244.4 1875.0,242.2 1878.4,241.9" fill="#ff8000"/>
<polygon points="1897.0,232.9 1898.3,236.0 1901.8,236.3 1899.1,238.5 1899.9,241.9 1897.0,240.1 1894.1,241.9 1894.9,238.5 1892.2,236.3 1895.7,236.0" fill="#ff8000"/>
<polygon points="1914.2,223.1 1915.6,226.3 1919.0,226.5 1916.4,228.8 1917.2,232.1 1914.2,230.3 1911.3,232.1 1912.1,228.8 1909.5,226.5 1912.9,226.3" fill="#ff8000"/>
<polygon points="1931.5,223.1 1932.8,226.3 1936.3,226.5 1933.6,228.8 1934.4,232.1 1931.5,230.3 1928.6,232.1 1929.4,228.8 1926.7,226.5 1930.2,226.3" fill="#ff8000"/>
<polygon points="1948.8,209.4 1950.1,212.6 1953.5,212.9 1950.9,215.1 1951.7,218.4 1948.8,216.6 1945.8,218.4 1946.6,215.1 1944.0,212.9 1947.4,212.6" fill="#ff8000"/>
<polygon points="1966.0,206.0 1967.3,209.2 1970.8,209.4 1968.1,211.7 1968.9,215.0 1966.0,213.2 1963.1,215.0 1963.9,211.7 1961.2,209.4 1964.7,209.2" fill="#ff8000"/>
<polygon points="1983.2,209.4 1984.6,212.6 1988.0,212.9 1985.4,215.1 1986.2,218.4 1983.2,216.6 1980.3,218.4 1981.1,215.1 1978.5,212.9 1981.9,212.6" fill="#ff8000"/>
<polygon points="2000.5,233.8 2001.8,237.0 2005.3,237.3 2002.6,239.5 2003.4,242.9 2000.5,241.1 1997.6,242.9 1998.4,239.5 1995.7,237.3 1999.2,237.0" fill="#ff8000"/>
<polygon points="2017.8,218.2 2019.1,221.4 2022.5,221.6 2019.9,223.9 2020.7,227.2 2017.8,225.4 2014.8,227.2 2015.6,223.9 2013.0,221.6 2016.4,221.4" fill="#ff8000"/>
<polygon points="2035.0,213.8 2036.3,217.0 2039.8,217.3 2037.1,219.5 2037.9,222.8 2035.0,221.0 2032.1,222.8 2032.9,219.5 2030.2,217.3 2033.7,217.0" fill="#ff8000"/>
<polygon points="2052.2,210.4 2053.6,213.6 2057.0,213.8 2054.4,216.1 2055.2,219.4 2052.2,217.6 2049.3,219.4 2050.1,216.1 2047.5,213.8 2050.9,213.6" fill="#ff8000"/>
<polygon points="2069.5,209.4 2070.8,212.6 2074.3,212.9 2071.6,215.1 2072.4,218.4 2069.5,216.6 2066.6,218.4 2067.4,215.1 2064.7,212.9 2068.2,212.6" fill="#ff8000"/>
<polygon points="2086.8,201.6 2088.1,204.8 2091.5,205.0 2088.9,207.3 2089.7,210.6 2086.8,208.8 2083.8,210.6 2084.6,207.3 2082.0,205.0 2085.4,204.8" fill="#ff8000"/>
<polygon points="2104.0,194.7 2105.3,197.9 2108.8,198.2 2106.1,200.4 2106.9,203.8 2104.0,202.0 2101.1,203.8 2101.9,200.4 2099.2,198.2 2102.7,197.9" fill="#ff8000"/>
<polygon points="2121.2,188.9 2122.6,192.1 2126.0,192.3 2123.4,194.6 2124.2,197.9 2121.2,196.1 2118.3,197.9 2119.1,194.6 2116.5,192.3 2119.9,192.1" fill="#ff8000"/>
<polygon points="2138.5,186.9 2139.8,190.1 2143.3,190.4 2140.6,192.6 2141.4,196.0 2138.5,194.2 2135.6,196.0 2136.4,192.6 2133.7,190.4 2137.2,190.1" fill="#ff8000"/>
<polygon points="2155.8,181.1 2157.1,184.2 2160.5,184.5 2157.9,186.8 2158.7,190.1 2155.8,188.3 2152.8,190.1 2153.6,186.8 2151.0,184.5 2154.4,184.2" fill="#ff8000"/>
<polygon points="2173.0,178.1 2174.3,181.3 2177.8,181.6 2175.1,183.8 2175.9,187.2 2173.0,185.4 2170.1,187.2 2170.9,183.8 2168.2,181.6 2171.7,181.3" fill="#ff8000"/>
<polygon points="2190.2,174.7 2191.6,177.9 2195.0,178.2 2192.4,180.4 2193.2,183.8 2190.2,182.0 2187.3,183.8 2188.1,180.4 2185.5,178.2 2188.9,177.9" fill="#ff8000"/>
<polygon points="2207.5,179.4 2208.8,182.6 2212.3,182.9 2209.6,185.1 2210.4,188.4 2207.5,186.6 2204.6,188.4 2205.4,185.1 2202.7,182.9 2206.2,182.6" fill="#ff8000"/>
<polygon points="2224.8,191.8 2226.1,195.0 2229.5,195.3 2226.9,197.5 2227.7,200.9 2224.8,199.1 2221.8,200.9 2222.6,197.5 2220.0,195.3 2223.4,195.0" fill="#ff8000"/>
<polygon points="2242.0,195.7 2243.3,198.9 2246.8,199.2 2244.1,201.4 2244.9,204.8 2242.0,203.0 2239.1,204.8 2239.9,201.4 2237.2,199.2 2240.7,198.9" fill="#ff8000"/>
<polyline points="1396.8,313.1 1414.0,104.0 1431.2,100.1 1448.5,98.1 1465.8,97.1 1483.0,95.2 1500.2,92.2 1517.5,91.3 1534.8,90.3 1552.0,89.3 1569.2,89.3 1586.5,88.3 1603.8,88.8 1621.0,89.3 1638.2,89.8 1655.5,90.6 1672.8,92.2 1690.0,96.1 1707.2,96.1 1724.5,96.1 1741.8,95.2 1759.0,93.7 1776.2,93.2 1793.5,90.6 1810.8,91.7 1828.0,90.3 1845.2,88.3 1862.5,88.3 1879.8,87.8 1897.0,87.8 1914.2,87.4 1931.5,85.4 1948.8,84.6 1966.0,90.8 1983.2,85.4 2000.5,83.2 2017.8,89.0 2035.0,84.1 2052.2,83.6 2069.5,84.6 2086.8,84.6 2104.0,82.7 2121.2,89.0 2138.5,84.6 2155.8,82.5 2173.0,84.9 2190.2,84.4 2207.5,83.0 2224.8,83.9 2242.0,83.0" fill="none" stroke="#00009c" stroke-width="5.5" stroke-linejoin="round" stroke-linecap="round" />
<circle cx="1396.8" cy="313.1" r="3.6" fill="#00009c"/>
<circle cx="1414.0" cy="104.0" r="3.6" fill="#00009c"/>
<circle cx="1431.2" cy="100.1" r="3.6" fill="#00009c"/>
<circle cx="1448.5" cy="98.1" r="3.6" fill="#00009c"/>
<circle cx="1465.8" cy="97.1" r="3.6" fill="#00009c"/>
<circle cx="1483.0" cy="95.2" r="3.6" fill="#00009c"/>
<circle cx="1500.2" cy="92.2" r="3.6" fill="#00009c"/>
<circle cx="1517.5" cy="91.3" r="3.6" fill="#00009c"/>
<circle cx="1534.8" cy="90.3" r="3.6" fill="#00009c"/>
<circle cx="1552.0" cy="89.3" r="3.6" fill="#00009c"/>
<circle cx="1569.2" cy="89.3" r="3.6" fill="#00009c"/>
<circle cx="1586.5" cy="88.3" r="3.6" fill="#00009c"/>
<circle cx="1603.8" cy="88.8" r="3.6" fill="#00009c"/>
<circle cx="1621.0" cy="89.3" r="3.6" fill="#00009c"/>
<circle cx="1638.2" cy="89.8" r="3.6" fill="#00009c"/>
<circle cx="1655.5" cy="90.6" r="3.6" fill="#00009c"/>
<circle cx="1672.8" cy="92.2" r="3.6" fill="#00009c"/>
<circle cx="1690.0" cy="96.1" r="3.6" fill="#00009c"/>
<circle cx="1707.2" cy="96.1" r="3.6" fill="#00009c"/>
<circle cx="1724.5" cy="96.1" r="3.6" fill="#00009c"/>
<circle cx="1741.8" cy="95.2" r="3.6" fill="#00009c"/>
<circle cx="1759.0" cy="93.7" r="3.6" fill="#00009c"/>
<circle cx="1776.2" cy="93.2" r="3.6" fill="#00009c"/>
<circle cx="1793.5" cy="90.6" r="3.6" fill="#00009c"/>
<circle cx="1810.8" cy="91.7" r="3.6" fill="#00009c"/>
<circle cx="1828.0" cy="90.3" r="3.6" fill="#00009c"/>
<circle cx="1845.2" cy="88.3" r="3.6" fill="#00009c"/>
<circle cx="1862.5" cy="88.3" r="3.6" fill="#00009c"/>
<circle cx="1879.8" cy="87.8" r="3.6" fill="#00009c"/>
<circle cx="1897.0" cy="87.8" r="3.6" fill="#00009c"/>
<circle cx="1914.2" cy="87.4" r="3.6" fill="#00009c"/>
<circle cx="1931.5" cy="85.4" r="3.6" fill="#00009c"/>
<circle cx="1948.8" cy="84.6" r="3.6" fill="#00009c"/>
<circle cx="1966.0" cy="90.8" r="3.6" fill="#00009c"/>
<circle cx="1983.2" cy="85.4" r="3.6" fill="#00009c"/>
<circle cx="2000.5" cy="83.2" r="3.6" fill="#00009c"/>
<circle cx="2017.8" cy="89.0" r="3.6" fill="#00009c"/>
<circle cx="2035.0" cy="84.1" r="3.6" fill="#00009c"/>
<circle cx="2052.2" cy="83.6" r="3.6" fill="#00009c"/>
<circle cx="2069.5" cy="84.6" r="3.6" fill="#00009c"/>
<circle cx="2086.8" cy="84.6" r="3.6" fill="#00009c"/>
<circle cx="2104.0" cy="82.7" r="3.6" fill="#00009c"/>
<circle cx="2121.2" cy="89.0" r="3.6" fill="#00009c"/>
<circle cx="2138.5" cy="84.6" r="3.6" fill="#00009c"/>
<circle cx="2155.8" cy="82.5" r="3.6" fill="#00009c"/>
<circle cx="2173.0" cy="84.9" r="3.6" fill="#00009c"/>
<circle cx="2190.2" cy="84.4" r="3.6" fill="#00009c"/>
<circle cx="2207.5" cy="83.0" r="3.6" fill="#00009c"/>
<circle cx="2224.8" cy="83.9" r="3.6" fill="#00009c"/>
<circle cx="2242.0" cy="83.0" r="3.6" fill="#00009c"/>
</g>
<line x1="230.0" y1="36.0" x2="230.0" y2="754.0" stroke="#000" stroke-width="8"/>
<line x1="1127.0" y1="36.0" x2="1127.0" y2="754.0" stroke="#000" stroke-width="8"/>
<line x1="226.0" y1="39.0" x2="1131.0" y2="39.0" stroke="#000" stroke-width="6.5"/>
<line x1="226.0" y1="750.5" x2="1131.0" y2="750.5" stroke="#000" stroke-width="7"/>
<line x1="216.0" y1="750.5" x2="230.0" y2="750.5" stroke="#000" stroke-width="6.5"/>
<text x="205" y="760.0" text-anchor="end" font-size="35" font-family="'Liberation Serif', 'Times New Roman', serif" font-weight="bold" fill="#000">0</text>
<line x1="222.0" y1="720.9" x2="230.0" y2="720.9" stroke="#000" stroke-width="6"/>
<line x1="216.0" y1="691.2" x2="230.0" y2="691.2" stroke="#000" stroke-width="6.5"/>
<text x="205" y="700.7" text-anchor="end" font-size="35" font-family="'Liberation Serif', 'Times New Roman', serif" font-weight="bold" fill="#000">20</text>
<line x1="222.0" y1="661.5" x2="230.0" y2="661.5" stroke="#000" stroke-width="6"/>
<line x1="216.0" y1="631.9" x2="230.0" y2="631.9" stroke="#000" stroke-width="6.5"/>
<text x="205" y="641.4" text-anchor="end" font-size="35" font-family="'Liberation Serif', 'Times New Roman', serif" font-weight="bold" fill="#000">40</text>
<line x1="222.0" y1="602.2" x2="230.0" y2="602.2" stroke="#000" stroke-width="6"/>
<line x1="216.0" y1="572.6" x2="230.0" y2="572.6" stroke="#000" stroke-width="6.5"/>
<text x="205" y="582.1" text-anchor="end" font-size="35" font-family="'Liberation Serif', 'Times New Roman', serif" font-weight="bold" fill="#000">60</text>
<line x1="222.0" y1="543.0" x2="230.0" y2="543.0" stroke="#000" stroke-width="6"/>
<line x1="216.0" y1="513.3" x2="230.0" y2="513.3" stroke="#000" stroke-width="6.5"/>
<text x="205" y="522.8" text-anchor="end" font-size="35" font-family="'Liberation Serif', 'Times New Roman', serif" font-weight="bold" fill="#000">80</text>
<line x1="222.0" y1="483.7" x2="230.0" y2="483.7" stroke="#000" stroke-width="6"/>
<line x1="216.0" y1="454.0" x2="230.0" y2="454.0" stroke="#000" stroke-width="6.5"/>
<text x="205" y="463.5" text-anchor="end" font-size="35" font-family="'Liberation Serif', 'Times New Roman', serif" font-weight="bold" fill="#000">100</text>
<line x1="222.0" y1="424.4" x2="230.0" y2="424.4" stroke="#000" stroke-width="6"/>
<line x1="216.0" y1="394.7" x2="230.0" y2="394.7" stroke="#000" stroke-width="6.5"/>
<text x="205" y="404.2" text-anchor="end" font-size="35" font-family="'Liberation Serif', 'Times New Roman', serif" font-weight="bold" fill="#000">120</text>
<line x1="222.0" y1="365.1" x2="230.0" y2="365.1" stroke="#000" stroke-width="6"/>
<line x1="216.0" y1="335.4" x2="230.0" y2="335.4" stroke="#000" stroke-width="6.5"/>
<text x="205" y="344.9" text-anchor="end" font-size="35" font-family="'Liberation Serif', 'Times New Roman', serif" font-weight="bold" fill="#000">140</text>
<line x1="222.0" y1="305.8" x2="230.0" y2="305.8" stroke="#000" stroke-width="6"/>
<line x1="216.0" y1="276.1" x2="230.0" y2="276.1" stroke="#000" stroke-width="6.5"/>
<text x="205" y="285.6" text-anchor="end" font-size="35" font-family="'Liberation Serif', 'Times New Roman', serif" font-weight="bold" fill="#000">160</text>
<line x1="222.0" y1="246.5" x2="230.0" y2="246.5" stroke="#000" stroke-width="6"/>
<line x1="216.0" y1="216.8" x2="230.0" y2="216.8" stroke="#000" stroke-width="6.5"/>
<text x="205" y="226.3" text-anchor="end" font-size="35" font-family="'Liberation Serif', 'Times New Roman', serif" font-weight="bold" fill="#000">180</text>
<line x1="222.0" y1="187.1" x2="230.0" y2="187.1" stroke="#000" stroke-width="6"/>
<line x1="216.0" y1="157.5" x2="230.0" y2="157.5" stroke="#000" stroke-width="6.5"/>
<text x="205" y="167.0" text-anchor="end" font-size="35" font-family="'Liberation Serif', 'Times New Roman', serif" font-weight="bold" fill="#000">200</text>
<line x1="222.0" y1="127.9" x2="230.0" y2="127.9" stroke="#000" stroke-width="6"/>
<line x1="216.0" y1="98.2" x2="230.0" y2="98.2" stroke="#000" stroke-width="6.5"/>
<text x="205" y="107.7" text-anchor="end" font-size="35" font-family="'Liberation Serif', 'Times New Roman', serif" font-weight="bold" fill="#000">220</text>
<line x1="222.0" y1="68.6" x2="230.0" y2="68.6" stroke="#000" stroke-width="6"/>
<line x1="216.0" y1="38.9" x2="230.0" y2="38.9" stroke="#000" stroke-width="6.5"/>
<text x="205" y="48.4" text-anchor="end" font-size="35" font-family="'Liberation Serif', 'Times New Roman', serif" font-weight="bold" fill="#000">240</text>
<line x1="230.0" y1="750.5" x2="230.0" y2="765" stroke="#000" stroke-width="7"/>
<text x="230.0" y="804" text-anchor="middle" font-size="35" font-family="'Liberation Serif', 'Times New Roman', serif" font-weight="bold" fill="#000">0</text>
<line x1="319.7" y1="750.5" x2="319.7" y2="765" stroke="#000" stroke-width="7"/>
<text x="319.7" y="804" text-anchor="middle" font-size="35" font-family="'Liberation Serif', 'Times New Roman', serif" font-weight="bold" fill="#000">5</text>
<line x1="409.4" y1="750.5" x2="409.4" y2="765" stroke="#000" stroke-width="7"/>
<text x="409.4" y="804" text-anchor="middle" font-size="35" font-family="'Liberation Serif', 'Times New Roman', serif" font-weight="bold" fill="#000">10</text>
<line x1="499.1" y1="750.5" x2="499.1" y2="765" stroke="#000" stroke-width="7"/>
<text x="499.1" y="804" text-anchor="middle" font-size="35" font-family="'Liberation Serif', 'Times New Roman', serif" font-weight="bold" fill="#000">15</text>
<line x1="588.8" y1="750.5" x2="588.8" y2="765" stroke="#000" stroke-width="7"/>
<text x="588.8" y="804" text-anchor="middle" font-size="35" font-family="'Liberation Serif', 'Times New Roman', serif" font-weight="bold" fill="#000">20</text>
<line x1="678.5" y1="750.5" x2="678.5" y2="765" stroke="#000" stroke-width="7"/>
<text x="678.5" y="804" text-anchor="middle" font-size="35" font-family="'Liberation Serif', 'Times New Roman', serif" font-weight="bold" fill="#000">25</text>
<line x1="768.2" y1="750.5" x2="768.2" y2="765" stroke="#000" stroke-width="7"/>
<text x="768.2" y="804" text-anchor="middle" font-size="35" font-family="'Liberation Serif', 'Times New Roman', serif" font-weight="bold" fill="#000">30</text>
<line x1="857.9" y1="750.5" x2="857.9" y2="765" stroke="#000" stroke-width="7"/>
<text x="857.9" y="804" text-anchor="middle" font-size="35" font-family="'Liberation Serif', 'Times New Roman', serif" font-weight="bold" fill="#000">35</text>
<line x1="947.6" y1="750.5" x2="947.6" y2="765" stroke="#000" stroke-width="7"/>
<text x="947.6" y="804" text-anchor="middle" font-size="35" font-family="'Liberation Serif', 'Times New Roman', serif" font-weight="bold" fill="#000">40</text>
<line x1="1037.3" y1="750.5" x2="1037.3" y2="765" stroke="#000" stroke-width="7"/>
<text x="1037.3" y="804" text-anchor="middle" font-size="35" font-family="'Liberation Serif', 'Times New Roman', serif" font-weight="bold" fill="#000">45</text>
<line x1="1127.0" y1="750.5" x2="1127.0" y2="765" stroke="#000" stroke-width="7"/>
<text x="1127.0" y="804" text-anchor="middle" font-size="35" font-family="'Liberation Serif', 'Times New Roman', serif" font-weight="bold" fill="#000">50</text>
<line x1="1362.0" y1="36.0" x2="1362.0" y2="754.0" stroke="#000" stroke-width="8"/>
<line x1="2259.5" y1="36.0" x2="2259.5" y2="754.0" stroke="#000" stroke-width="8"/>
<line x1="1358.0" y1="39.0" x2="2263.5" y2="39.0" stroke="#000" stroke-width="6.5"/>
<line x1="1358.0" y1="750.5" x2="2263.5" y2="750.5" stroke="#000" stroke-width="7"/>
<line x1="1354.0" y1="711.8" x2="1362.0" y2="711.8" stroke="#000" stroke-width="6"/>
<line x1="1348.0" y1="663.0" x2="1362.0" y2="663.0" stroke="#000" stroke-width="6.5"/>
<text x="1339" y="673.5" text-anchor="end" font-size="35" font-family="'Liberation Serif', 'Times New Roman', serif" font-weight="bold" fill="#000">40</text>
<line x1="1354.0" y1="614.1" x2="1362.0" y2="614.1" stroke="#000" stroke-width="6"/>
<line x1="1348.0" y1="565.2" x2="1362.0" y2="565.2" stroke="#000" stroke-width="6.5"/>
<text x="1339" y="575.8" text-anchor="end" font-size="35" font-family="'Liberation Serif', 'Times New Roman', serif" font-weight="bold" fill="#000">50</text>
<line x1="1354.0" y1="516.4" x2="1362.0" y2="516.4" stroke="#000" stroke-width="6"/>
<line x1="1348.0" y1="467.5" x2="1362.0" y2="467.5" stroke="#000" stroke-width="6.5"/>
<text x="1339" y="478.0" text-anchor="end" font-size="35" font-family="'Liberation Serif', 'Times New Roman', serif" font-weight="bold" fill="#000">60</text>
<line x1="1354.0" y1="418.7" x2="1362.0" y2="418.7" stroke="#000" stroke-width="6"/>
<line x1="1348.0" y1="369.8" x2="1362.0" y2="369.8" stroke="#000" stroke-width="6.5"/>
<text x="1339" y="380.3" text-anchor="end" font-size="35" font-family="'Liberation Serif', 'Times New Roman', serif" font-weight="bold" fill="#000">70</text>
<line x1="1354.0" y1="320.9" x2="1362.0" y2="320.9" stroke="#000" stroke-width="6"/>
<line x1="1348.0" y1="272.1" x2="1362.0" y2="272.1" stroke="#000" stroke-width="6.5"/>
<text x="1339" y="282.6" text-anchor="end" font-size="35" font-family="'Liberation Serif', 'Times New Roman', serif" font-weight="bold" fill="#000">80</text>
<line x1="1354.0" y1="223.2" x2="1362.0" y2="223.2" stroke="#000" stroke-width="6"/>
<line x1="1348.0" y1="174.3" x2="1362.0" y2="174.3" stroke="#000" stroke-width="6.5"/>
<text x="1339" y="184.8" text-anchor="end" font-size="35" font-family="'Liberation Serif', 'Times New Roman', serif" font-weight="bold" fill="#000">90</text>
<line x1="1354.0" y1="125.5" x2="1362.0" y2="125.5" stroke="#000" stroke-width="6"/>
<line x1="1348.0" y1="76.6" x2="1362.0" y2="76.6" stroke="#000" stroke-width="6.5"/>
<text x="1339" y="87.1" text-anchor="end" font-size="35" font-family="'Liberation Serif', 'Times New Roman', serif" font-weight="bold" fill="#000">100</text>
<line x1="1379.5" y1="750.5" x2="1379.5" y2="765" stroke="#000" stroke-width="7"/>
<text x="1379.5" y="804" text-anchor="middle" font-size="35" font-family="'Liberation Serif', 'Times New Roman', serif" font-weight="bold" fill="#000">0</text>
<line x1="1465.8" y1="750.5" x2="1465.8" y2="765" stroke="#000" stroke-width="7"/>
<text x="1465.8" y="804" text-anchor="middle" font-size="35" font-family="'Liberation Serif', 'Times New Roman', serif" font-weight="bold" fill="#000">5</text>
<line x1="1552.0" y1="750.5" x2="1552.0" y2="765" stroke="#000" stroke-width="7"/>
<text x="1552.0" y="804" text-anchor="middle" font-size="35" font-family="'Liberation Serif', 'Times New Roman', serif" font-weight="bold" fill="#000">10</text>
<line x1="1638.2" y1="750.5" x2="1638.2" y2="765" stroke="#000" stroke-width="7"/>
<text x="1638.2" y="804" text-anchor="middle" font-size="35" font-family="'Liberation Serif', 'Times New Roman', serif" font-weight="bold" fill="#000">15</text>
<line x1="1724.5" y1="750.5" x2="1724.5" y2="765" stroke="#000" stroke-width="7"/>
<text x="1724.5" y="804" text-anchor="middle" font-size="35" font-family="'Liberation Serif', 'Times New Roman', serif" font-weight="bold" fill="#000">20</text>
<line x1="1810.8" y1="750.5" x2="1810.8" y2="765" stroke="#000" stroke-width="7"/>
<text x="1810.8" y="804" text-anchor="middle" font-size="35" font-family="'Liberation Serif', 'Times New Roman', serif" font-weight="bold" fill="#000">25</text>
<line x1="1897.0" y1="750.5" x2="1897.0" y2="765" stroke="#000" stroke-width="7"/>
<text x="1897.0" y="804" text-anchor="middle" font-size="35" font-family="'Liberation Serif', 'Times New Roman', serif" font-weight="bold" fill="#000">30</text>
<line x1="1983.2" y1="750.5" x2="1983.2" y2="765" stroke="#000" stroke-width="7"/>
<text x="1983.2" y="804" text-anchor="middle" font-size="35" font-family="'Liberation Serif', 'Times New Roman', serif" font-weight="bold" fill="#000">35</text>
<line x1="2069.5" y1="750.5" x2="2069.5" y2="765" stroke="#000" stroke-width="7"/>
<text x="2069.5" y="804" text-anchor="middle" font-size="35" font-family="'Liberation Serif', 'Times New Roman', serif" font-weight="bold" fill="#000">40</text>
<line x1="2155.8" y1="750.5" x2="2155.8" y2="765" stroke="#000" stroke-width="7"/>
<text x="2155.8" y="804" text-anchor="middle" font-size="35" font-family="'Liberation Serif', 'Times New Roman', serif" font-weight="bold" fill="#000">45</text>
<line x1="2242.0" y1="750.5" x2="2242.0" y2="765" stroke="#000" stroke-width="7"/>
<text x="2242.0" y="804" text-anchor="middle" font-size="35" font-family="'Liberation Serif', 'Times New Roman', serif" font-weight="bold" fill="#000">50</text>
<text x="11.5" y="88" font-size="104" letter-spacing="1.5" font-family="'Liberation Serif', 'Times New Roman', serif" font-weight="bold" fill="#000">(a)</text>
<text x="1149.5" y="88" font-size="104" letter-spacing="1.5" font-family="'Liberation Serif', 'Times New Roman', serif" font-weight="bold" fill="#000">(b)</text>
<text x="677.9" y="867.5" text-anchor="middle" font-size="62" textLength="371" lengthAdjust="spacingAndGlyphs" font-family="'Liberation Serif', 'Times New Roman', serif" font-weight="bold" fill="#000">Cycle Number</text>
<text x="1810.1" y="867.5" text-anchor="middle" font-size="62" textLength="371" lengthAdjust="spacingAndGlyphs" font-family="'Liberation Serif', 'Times New Roman', serif" font-weight="bold" fill="#000">Cycle Number</text>
<text transform="translate(106,460.5) rotate(-90)" text-anchor="middle" font-size="60" font-family="'Liberation Serif', 'Times New Roman', serif" font-weight="bold" fill="#000">Specific Capacity (mAh/g)</text>
<text transform="translate(1264,460.5) rotate(-90)" text-anchor="middle" font-size="60.2" font-family="'Liberation Serif', 'Times New Roman', serif" font-weight="bold" fill="#000">Coulombic Efficiency (%)</text>
<line x1="938" y1="65.0" x2="1028" y2="65.0" stroke="#ff0000" stroke-width="8"/>
<rect x="970.2" y="53.2" width="23.6" height="23.6" fill="#ff0000" stroke="none" stroke-width="0"/>
<text x="1031" y="77.0" font-size="35" letter-spacing="1.3" font-family="'Liberation Serif', 'Times New Roman', serif" font-weight="bold" fill="#000">83L0</text>
<line x1="938" y1="110.8" x2="1028" y2="110.8" stroke="#00ff00" stroke-width="11"/>
<circle cx="982.0" cy="110.8" r="12.8" fill="#00ff00" stroke="none" stroke-width="0"/>
<text x="1031" y="122.8" font-size="35" letter-spacing="1.3" font-family="'Liberation Serif', 'Times New Roman', serif" font-weight="bold" fill="#000">83L1</text>
<line x1="938" y1="156.6" x2="1028" y2="156.6" stroke="#ff8000" stroke-width="12.5"/>
<polygon points="982.0,142.1 993.0,156.6 982.0,171.1 971.0,156.6" fill="#ff8000" stroke="none" stroke-width="0"/>
<text x="1031" y="168.6" font-size="35" letter-spacing="1.3" font-family="'Liberation Serif', 'Times New Roman', serif" font-weight="bold" fill="#000">83L3</text>
<line x1="938" y1="202.4" x2="1028" y2="202.4" stroke="#00009c" stroke-width="13"/>
<circle cx="982.0" cy="202.4" r="12.5" fill="#00009c" stroke="none" stroke-width="0"/>
<text x="1031" y="214.4" font-size="35" letter-spacing="1.3" font-family="'Liberation Serif', 'Times New Roman', serif" font-weight="bold" fill="#000">83L5</text>
<line x1="2069" y1="575.0" x2="2159" y2="575.0" stroke="#ff0000" stroke-width="8"/>
<text x="2163" y="587.0" font-size="35" letter-spacing="1.3" font-family="'Liberation Serif', 'Times New Roman', serif" font-weight="bold" fill="#000">83L0</text>
<polygon points="2113.0,567.5 2115.0,572.3 2120.1,572.7 2116.2,576.0 2117.4,581.1 2113.0,578.4 2108.6,581.1 2109.8,576.0 2105.9,572.7 2111.0,572.3" fill="#ff0000"/>
<line x1="2069" y1="620.6" x2="2159" y2="620.6" stroke="#00ff00" stroke-width="8"/>
<text x="2163" y="632.6" font-size="35" letter-spacing="1.3" font-family="'Liberation Serif', 'Times New Roman', serif" font-weight="bold" fill="#000">83L1</text>
<polygon points="2113.0,613.1 2115.0,617.9 2120.1,618.3 2116.2,621.6 2117.4,626.7 2113.0,624.0 2108.6,626.7 2109.8,621.6 2105.9,618.3 2111.0,617.9" fill="#00ff00"/>
<line x1="2069" y1="666.2" x2="2159" y2="666.2" stroke="#ff8000" stroke-width="8"/>
<text x="2163" y="678.2" font-size="35" letter-spacing="1.3" font-family="'Liberation Serif', 'Times New Roman', serif" font-weight="bold" fill="#000">83L3</text>
<polygon points="2113.0,658.7 2115.0,663.5 2120.1,663.9 2116.2,667.2 2117.4,672.3 2113.0,669.6 2108.6,672.3 2109.8,667.2 2105.9,663.9 2111.0,663.5" fill="#ff8000"/>
<line x1="2069" y1="711.8" x2="2159" y2="711.8" stroke="#00009c" stroke-width="8"/>
<text x="2163" y="723.8" font-size="35" letter-spacing="1.3" font-family="'Liberation Serif', 'Times New Roman', serif" font-weight="bold" fill="#000">83L5</text>
<circle cx="2113" cy="711.8" r="6.8" fill="#00009c"/>
</svg>
</body></html>
